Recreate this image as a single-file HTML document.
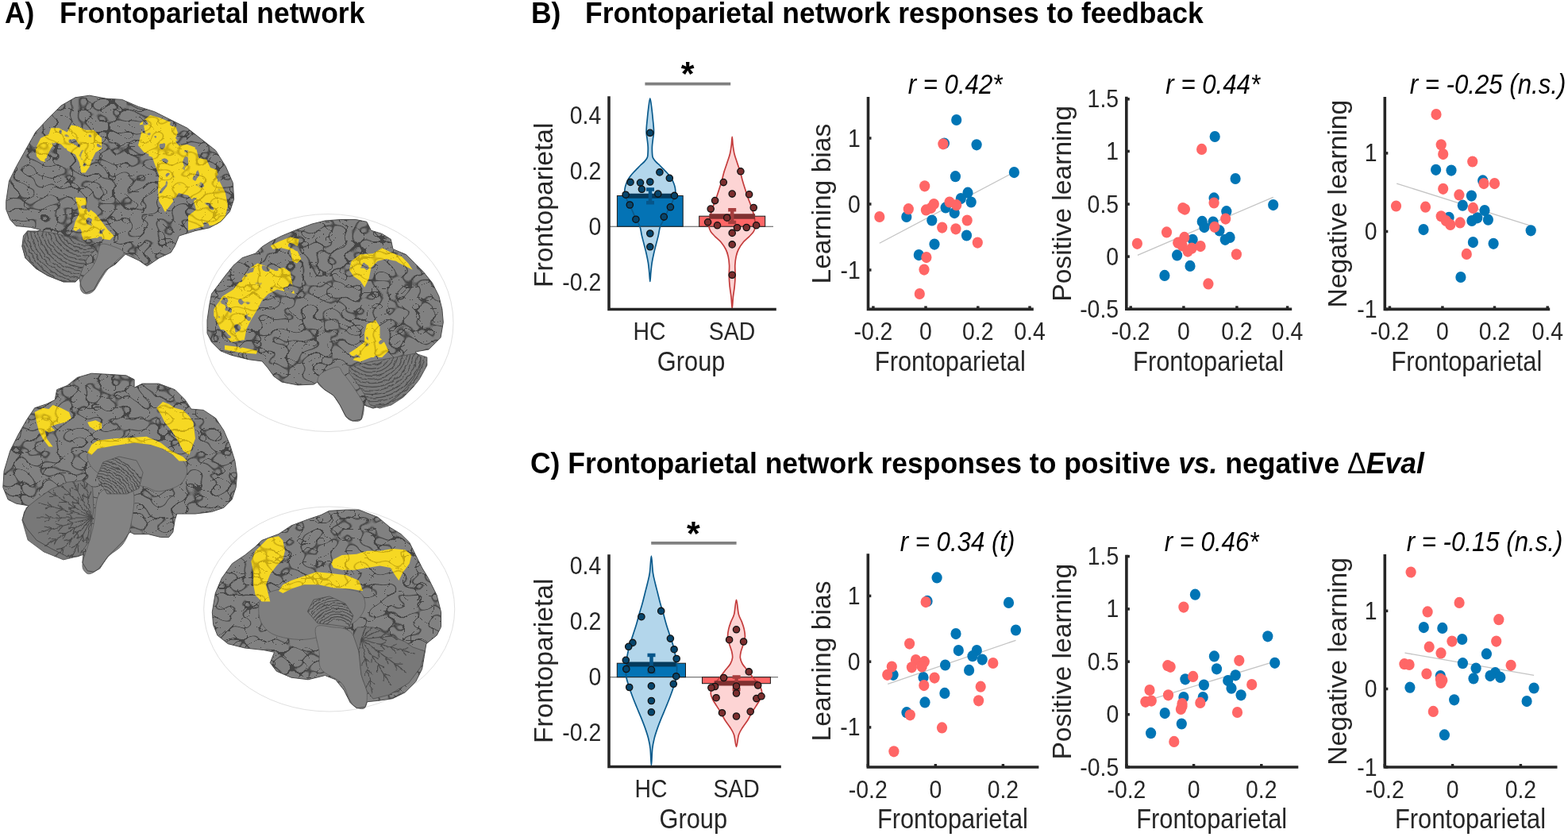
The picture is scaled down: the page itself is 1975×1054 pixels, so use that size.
<!DOCTYPE html>
<html><head><meta charset="utf-8"><title>Frontoparietal network</title>
<style>
html,body{margin:0;padding:0;background:#fff;}
body{width:1975px;height:1054px;overflow:hidden;}
svg{display:block;font-family:'Liberation Sans', Arial, Helvetica, sans-serif;}
</style></head><body>
<svg width="1975" height="1054" viewBox="0 0 1975 1054">
<rect width="1975" height="1054" fill="#fff"/>
<defs>
<filter id="gyri" x="0" y="0" width="100%" height="100%" color-interpolation-filters="sRGB">
  <feTurbulence type="turbulence" baseFrequency="0.055 0.072" numOctaves="1" seed="5" result="n"/>
  <feColorMatrix in="n" type="matrix" values="0 0 0 0 0.27  0 0 0 0 0.27  0 0 0 0 0.27  -14 0 0 0 1.02"/>
  <feGaussianBlur stdDeviation="0.3"/>
</filter>
<filter id="gyriY" x="0" y="0" width="100%" height="100%" color-interpolation-filters="sRGB">
  <feTurbulence type="turbulence" baseFrequency="0.055 0.072" numOctaves="1" seed="5" result="n"/>
  <feColorMatrix in="n" type="matrix" values="0 0 0 0 0.7  0 0 0 0 0.58  0 0 0 0 0.04  -8 0 0 0 0.7"/>
  <feGaussianBlur stdDeviation="0.3"/>
</filter>
<filter id="holesF" x="0" y="0" width="100%" height="100%" color-interpolation-filters="sRGB">
  <feTurbulence type="fractalNoise" baseFrequency="0.075" numOctaves="2" seed="21"/>
  <feColorMatrix type="matrix" values="0 0 0 0 1  0 0 0 0 1  0 0 0 0 1  -22 0 0 0 14.9"/>
</filter>
<mask id="yholes" maskUnits="userSpaceOnUse" x="0" y="90" width="620" height="830"><rect x="0" y="90" width="620" height="830" fill="#fff" filter="url(#holesF)"/></mask>
<filter id="wavy" x="-5%" y="-5%" width="110%" height="110%">
  <feTurbulence type="fractalNoise" baseFrequency="0.12" numOctaves="2" seed="11" result="t"/>
  <feDisplacementMap in="SourceGraphic" in2="t" scale="4" xChannelSelector="R" yChannelSelector="G"/>
</filter>
</defs>
<ellipse cx="413" cy="406.5" rx="158" ry="137" fill="none" stroke="#e0e0e0" stroke-width="1"/>
<ellipse cx="414.7" cy="767" rx="158" ry="129" fill="none" stroke="#e0e0e0" stroke-width="1"/>
<clipPath id="bc1"><polygon points="7.7,253.5 11.5,227.9 20.5,209.9 33.3,186.9 44.8,166.4 61.5,148.4 76.9,133.1 94.8,122.8 112.7,120.2 133.2,124.1 153.7,125.4 174.2,134.3 194.7,140.7 215.2,151.0 235.7,161.2 253.7,175.3 271.6,189.4 284.4,209.9 293.4,230.4 294.6,250.9 289.5,266.3 278.0,279.1 263.9,286.8 246.0,290.6 225.5,297.0 220.3,309.8 215.2,318.0 200.1,325.0 190.1,331.9 185.0,335.0 175.0,328.0 158.1,320.1 145.0,332.9 133.0,340.1 125.0,352.1 118.1,364.9 108.1,369.0 102.0,360.1 99.9,350.1 95.1,354.9 79.9,354.9 60.0,347.0 45.1,338.0 32.0,325.0 27.9,310.1 29.5,297.0 34.6,290.9 44.8,292.4 51.2,289.3 38.4,286.3 20.0,284.5 12.8,276.5 7.7,263.7"/></clipPath>
<clipPath id="yc1"><polygon points="44.8,186.9 51.2,174.1 61.5,168.9 64.1,161.2 74.3,161.2 84.6,166.4 89.7,157.4 97.4,158.7 107.6,163.8 117.9,163.8 128.1,174.1 128.1,186.9 120.4,192.0 115.3,202.2 112.7,209.9 107.6,217.6 102.5,217.6 99.9,204.8 94.8,194.6 84.6,189.4 76.9,181.7 69.2,179.2 64.1,186.9 58.9,197.1 58.9,204.8 51.2,202.2 46.1,197.1"/><polygon points="94.8,248.4 107.6,249.6 110.2,261.2 120.4,268.9 128.1,279.1 135.8,289.3 143.5,297.0 138.4,302.2 120.4,299.6 105.0,302.2 102.5,294.5 92.2,289.3 94.8,279.1 99.9,268.9 97.4,258.6"/><polygon points="176.0,156.1 189.1,145.1 200.1,147.9 220.1,156.1 223.9,166.9 221.1,174.1 228.0,183.0 236.0,182.0 247.0,186.1 250.1,198.9 260.1,201.0 264.9,210.9 273.1,214.0 275.9,227.1 283.9,243.0 287.0,259.1 283.1,275.0 273.1,282.9 257.0,285.0 237.0,290.1 237.0,271.9 247.0,264.0 243.9,253.0 237.0,246.0 225.0,243.0 218.0,254.0 208.0,267.1 200.1,253.0 199.1,239.9 200.1,219.9 195.0,207.1 191.9,197.9 184.0,195.1 174.0,183.0 178.1,166.9"/></clipPath>
<polygon points="7.7,253.5 11.5,227.9 20.5,209.9 33.3,186.9 44.8,166.4 61.5,148.4 76.9,133.1 94.8,122.8 112.7,120.2 133.2,124.1 153.7,125.4 174.2,134.3 194.7,140.7 215.2,151.0 235.7,161.2 253.7,175.3 271.6,189.4 284.4,209.9 293.4,230.4 294.6,250.9 289.5,266.3 278.0,279.1 263.9,286.8 246.0,290.6 225.5,297.0 220.3,309.8 215.2,318.0 200.1,325.0 190.1,331.9 185.0,335.0 175.0,328.0 158.1,320.1 145.0,332.9 133.0,340.1 125.0,352.1 118.1,364.9 108.1,369.0 102.0,360.1 99.9,350.1 95.1,354.9 79.9,354.9 60.0,347.0 45.1,338.0 32.0,325.0 27.9,310.1 29.5,297.0 34.6,290.9 44.8,292.4 51.2,289.3 38.4,286.3 20.0,284.5 12.8,276.5 7.7,263.7" fill="#818181"/>
<rect x="6" y="118" width="291" height="253" filter="url(#gyri)" clip-path="url(#bc1)"/>
<path d="M127.08,308.05 C130.41,305.58 137.12,308.44 141.94,310.10 C146.77,311.77 155.52,314.71 156.03,318.05 C156.55,321.38 148.52,326.41 145.02,330.09 C141.52,333.76 138.36,335.89 135.02,340.08 C131.69,344.26 127.85,350.84 125.03,355.20 C122.21,359.55 120.63,363.74 118.11,366.21 C115.59,368.69 112.43,369.89 109.92,370.06 C107.40,370.23 104.49,369.25 103.00,367.24 C101.50,365.23 100.61,361.22 100.95,358.01 C101.29,354.81 102.70,351.35 105.05,348.02 C107.40,344.69 112.22,341.87 115.04,338.03 C117.86,334.19 119.95,329.96 121.96,324.96 C123.96,319.97 123.75,310.53 127.08,308.05 Z" fill="#838383" stroke="#5a5a5a" stroke-width="0.8"/>
<clipPath id="cc1_0"><polygon points="34.6,290.9 27.9,310.1 32.0,325.0 45.1,338.0 60.0,347.0 79.9,354.9 95.1,354.9 99.9,350.1 104.0,338.0 109.9,325.0 119.9,315.0 110.2,307.3 94.8,300.9 69.9,294.0 50.0,290.9"/></clipPath>
<polygon points="34.6,290.9 27.9,310.1 32.0,325.0 45.1,338.0 60.0,347.0 79.9,354.9 95.1,354.9 99.9,350.1 104.0,338.0 109.9,325.0 119.9,315.0 110.2,307.3 94.8,300.9 69.9,294.0 50.0,290.9" fill="#7a7a7a" stroke="#505050" stroke-width="0.8"/>
<g clip-path="url(#cc1_0)"><g filter="url(#wavy)" fill="none" stroke="#484848" stroke-width="1.1"><circle cx="108" cy="280" r="6.0"/><circle cx="108" cy="280" r="10.6"/><circle cx="108" cy="280" r="15.2"/><circle cx="108" cy="280" r="19.8"/><circle cx="108" cy="280" r="24.4"/><circle cx="108" cy="280" r="29.0"/><circle cx="108" cy="280" r="33.6"/><circle cx="108" cy="280" r="38.2"/><circle cx="108" cy="280" r="42.8"/><circle cx="108" cy="280" r="47.4"/><circle cx="108" cy="280" r="52.0"/><circle cx="108" cy="280" r="56.6"/><circle cx="108" cy="280" r="61.2"/><circle cx="108" cy="280" r="65.8"/><circle cx="108" cy="280" r="70.4"/><circle cx="108" cy="280" r="75.0"/><circle cx="108" cy="280" r="79.6"/><circle cx="108" cy="280" r="84.2"/></g></g>
<g mask="url(#yholes)">
<polygon points="44.8,186.9 51.2,174.1 61.5,168.9 64.1,161.2 74.3,161.2 84.6,166.4 89.7,157.4 97.4,158.7 107.6,163.8 117.9,163.8 128.1,174.1 128.1,186.9 120.4,192.0 115.3,202.2 112.7,209.9 107.6,217.6 102.5,217.6 99.9,204.8 94.8,194.6 84.6,189.4 76.9,181.7 69.2,179.2 64.1,186.9 58.9,197.1 58.9,204.8 51.2,202.2 46.1,197.1" fill="#f6d823"/>
<polygon points="94.8,248.4 107.6,249.6 110.2,261.2 120.4,268.9 128.1,279.1 135.8,289.3 143.5,297.0 138.4,302.2 120.4,299.6 105.0,302.2 102.5,294.5 92.2,289.3 94.8,279.1 99.9,268.9 97.4,258.6" fill="#f6d823"/>
<polygon points="176.0,156.1 189.1,145.1 200.1,147.9 220.1,156.1 223.9,166.9 221.1,174.1 228.0,183.0 236.0,182.0 247.0,186.1 250.1,198.9 260.1,201.0 264.9,210.9 273.1,214.0 275.9,227.1 283.9,243.0 287.0,259.1 283.1,275.0 273.1,282.9 257.0,285.0 237.0,290.1 237.0,271.9 247.0,264.0 243.9,253.0 237.0,246.0 225.0,243.0 218.0,254.0 208.0,267.1 200.1,253.0 199.1,239.9 200.1,219.9 195.0,207.1 191.9,197.9 184.0,195.1 174.0,183.0 178.1,166.9" fill="#f6d823"/>
<rect x="6" y="118" width="291" height="253" filter="url(#gyriY)" clip-path="url(#yc1)"/>
</g>
<polygon points="7.7,253.5 11.5,227.9 20.5,209.9 33.3,186.9 44.8,166.4 61.5,148.4 76.9,133.1 94.8,122.8 112.7,120.2 133.2,124.1 153.7,125.4 174.2,134.3 194.7,140.7 215.2,151.0 235.7,161.2 253.7,175.3 271.6,189.4 284.4,209.9 293.4,230.4 294.6,250.9 289.5,266.3 278.0,279.1 263.9,286.8 246.0,290.6 225.5,297.0 220.3,309.8 215.2,318.0 200.1,325.0 190.1,331.9 185.0,335.0 175.0,328.0 158.1,320.1 145.0,332.9 133.0,340.1 125.0,352.1 118.1,364.9 108.1,369.0 102.0,360.1 99.9,350.1 95.1,354.9 79.9,354.9 60.0,347.0 45.1,338.0 32.0,325.0 27.9,310.1 29.5,297.0 34.6,290.9 44.8,292.4 51.2,289.3 38.4,286.3 20.0,284.5 12.8,276.5 7.7,263.7" fill="none" stroke="#4a4a4a" stroke-width="1"/>
<clipPath id="bc2"><polygon points="261.0,403.1 263.8,383.9 266.5,370.1 274.8,359.1 283.0,348.1 294.0,334.3 305.1,324.7 321.6,319.2 329.8,310.9 340.8,304.0 354.6,297.2 371.1,290.3 382.1,286.1 393.1,282.0 409.6,277.9 428.9,276.5 448.2,276.5 461.9,279.3 467.5,290.3 481.2,294.4 492.2,301.3 495.0,313.7 511.5,320.6 522.5,331.6 533.5,342.6 544.5,356.3 552.8,372.9 556.9,389.4 558.3,405.9 555.0,425.2 540.1,440.0 523.1,443.0 529.9,449.9 529.9,460.1 520.0,478.0 512.0,487.9 499.9,500.0 485.1,509.9 469.9,514.1 458.1,509.9 455.1,528.1 444.1,530.0 436.1,525.1 428.1,509.9 420.1,498.1 408.0,490.1 400.0,481.0 395.1,484.1 375.0,484.9 354.9,481.0 345.0,473.9 337.0,462.9 330.1,454.9 313.3,452.7 291.3,447.2 277.5,441.7 266.5,430.7 261.0,419.6"/></clipPath>
<clipPath id="yc2"><polygon points="269.3,389.4 280.3,372.9 294.0,364.6 305.1,350.8 316.1,337.1 324.3,331.6 332.6,334.3 343.6,339.8 357.3,337.1 365.6,342.6 368.4,359.1 371.1,370.1 360.1,367.3 349.1,364.6 338.1,370.1 329.8,378.4 324.3,389.4 316.1,403.1 310.6,414.1 307.8,427.9 291.3,430.7 280.3,419.6 274.8,408.6 269.3,397.6"/><polygon points="283.0,434.8 305.1,437.5 324.3,441.7 322.9,445.8 302.3,443.9 283.0,440.3"/><polygon points="340.8,309.5 351.8,304.0 365.6,298.5 376.6,301.3 373.9,315.1 379.4,326.1 373.9,331.6 368.4,328.8 365.6,315.1 354.6,312.3 343.6,313.7"/><polygon points="442.7,328.8 453.7,320.6 470.2,319.2 481.2,312.3 492.2,317.8 506.0,323.3 514.2,331.6 519.7,339.8 508.7,334.3 497.7,328.8 486.7,326.1 475.7,328.8 467.5,337.1 464.7,350.8 459.2,361.8 453.7,353.6 445.4,348.1 439.9,339.8"/><polygon points="461.9,408.6 473.0,403.1 478.5,411.4 478.5,425.2 484.0,430.7 489.5,441.7 481.2,449.9 467.5,449.9 453.7,455.4 442.7,452.7 439.9,444.4 448.2,438.9 459.2,430.7 459.2,419.6"/></clipPath>
<polygon points="261.0,403.1 263.8,383.9 266.5,370.1 274.8,359.1 283.0,348.1 294.0,334.3 305.1,324.7 321.6,319.2 329.8,310.9 340.8,304.0 354.6,297.2 371.1,290.3 382.1,286.1 393.1,282.0 409.6,277.9 428.9,276.5 448.2,276.5 461.9,279.3 467.5,290.3 481.2,294.4 492.2,301.3 495.0,313.7 511.5,320.6 522.5,331.6 533.5,342.6 544.5,356.3 552.8,372.9 556.9,389.4 558.3,405.9 555.0,425.2 540.1,440.0 523.1,443.0 529.9,449.9 529.9,460.1 520.0,478.0 512.0,487.9 499.9,500.0 485.1,509.9 469.9,514.1 458.1,509.9 455.1,528.1 444.1,530.0 436.1,525.1 428.1,509.9 420.1,498.1 408.0,490.1 400.0,481.0 395.1,484.1 375.0,484.9 354.9,481.0 345.0,473.9 337.0,462.9 330.1,454.9 313.3,452.7 291.3,447.2 277.5,441.7 266.5,430.7 261.0,419.6" fill="#818181"/>
<rect x="259" y="275" width="301" height="258" filter="url(#gyri)" clip-path="url(#bc2)"/>
<path d="M404.97,470.02 C409.14,466.85 420.57,462.04 425.06,462.04 C429.56,462.04 429.47,467.04 431.94,470.02 C434.42,473.00 436.90,475.75 439.93,479.93 C442.95,484.10 447.08,490.07 450.11,495.07 C453.14,500.07 457.27,504.43 458.09,509.93 C458.92,515.44 457.40,524.75 455.06,528.10 C452.73,531.45 447.22,530.53 444.05,530.02 C440.89,529.52 438.73,528.42 436.07,525.07 C433.41,521.72 430.75,514.43 428.09,509.93 C425.43,505.44 423.46,501.40 420.11,498.10 C416.76,494.79 411.35,492.96 408.00,490.11 C404.65,487.27 400.52,484.38 400.01,481.03 C399.51,477.68 400.79,473.18 404.97,470.02 Z" fill="#838383" stroke="#5a5a5a" stroke-width="0.8"/>
<clipPath id="cc2_0"><polygon points="439.9,462.0 468.0,455.2 498.0,449.9 523.1,445.0 537.9,449.9 537.9,460.1 528.0,478.0 520.0,487.9 508.2,500.0 493.0,509.9 478.2,514.1 466.1,509.9 458.1,495.1 447.9,479.9 439.9,470.0"/></clipPath>
<polygon points="439.9,462.0 468.0,455.2 498.0,449.9 523.1,445.0 537.9,449.9 537.9,460.1 528.0,478.0 520.0,487.9 508.2,500.0 493.0,509.9 478.2,514.1 466.1,509.9 458.1,495.1 447.9,479.9 439.9,470.0" fill="#7a7a7a" stroke="#505050" stroke-width="0.8"/>
<g clip-path="url(#cc2_0)"><g filter="url(#wavy)" fill="none" stroke="#484848" stroke-width="1.1"><circle cx="468" cy="438" r="8.0"/><circle cx="468" cy="438" r="12.6"/><circle cx="468" cy="438" r="17.2"/><circle cx="468" cy="438" r="21.8"/><circle cx="468" cy="438" r="26.4"/><circle cx="468" cy="438" r="31.0"/><circle cx="468" cy="438" r="35.6"/><circle cx="468" cy="438" r="40.2"/><circle cx="468" cy="438" r="44.8"/><circle cx="468" cy="438" r="49.4"/><circle cx="468" cy="438" r="54.0"/><circle cx="468" cy="438" r="58.6"/><circle cx="468" cy="438" r="63.2"/><circle cx="468" cy="438" r="67.8"/><circle cx="468" cy="438" r="72.4"/><circle cx="468" cy="438" r="77.0"/><circle cx="468" cy="438" r="81.6"/><circle cx="468" cy="438" r="86.2"/><circle cx="468" cy="438" r="90.8"/></g></g>
<g mask="url(#yholes)">
<polygon points="269.3,389.4 280.3,372.9 294.0,364.6 305.1,350.8 316.1,337.1 324.3,331.6 332.6,334.3 343.6,339.8 357.3,337.1 365.6,342.6 368.4,359.1 371.1,370.1 360.1,367.3 349.1,364.6 338.1,370.1 329.8,378.4 324.3,389.4 316.1,403.1 310.6,414.1 307.8,427.9 291.3,430.7 280.3,419.6 274.8,408.6 269.3,397.6" fill="#f6d823"/>
<polygon points="283.0,434.8 305.1,437.5 324.3,441.7 322.9,445.8 302.3,443.9 283.0,440.3" fill="#f6d823"/>
<polygon points="340.8,309.5 351.8,304.0 365.6,298.5 376.6,301.3 373.9,315.1 379.4,326.1 373.9,331.6 368.4,328.8 365.6,315.1 354.6,312.3 343.6,313.7" fill="#f6d823"/>
<polygon points="442.7,328.8 453.7,320.6 470.2,319.2 481.2,312.3 492.2,317.8 506.0,323.3 514.2,331.6 519.7,339.8 508.7,334.3 497.7,328.8 486.7,326.1 475.7,328.8 467.5,337.1 464.7,350.8 459.2,361.8 453.7,353.6 445.4,348.1 439.9,339.8" fill="#f6d823"/>
<polygon points="461.9,408.6 473.0,403.1 478.5,411.4 478.5,425.2 484.0,430.7 489.5,441.7 481.2,449.9 467.5,449.9 453.7,455.4 442.7,452.7 439.9,444.4 448.2,438.9 459.2,430.7 459.2,419.6" fill="#f6d823"/>
<rect x="259" y="275" width="301" height="258" filter="url(#gyriY)" clip-path="url(#yc2)"/>
</g>
<polygon points="261.0,403.1 263.8,383.9 266.5,370.1 274.8,359.1 283.0,348.1 294.0,334.3 305.1,324.7 321.6,319.2 329.8,310.9 340.8,304.0 354.6,297.2 371.1,290.3 382.1,286.1 393.1,282.0 409.6,277.9 428.9,276.5 448.2,276.5 461.9,279.3 467.5,290.3 481.2,294.4 492.2,301.3 495.0,313.7 511.5,320.6 522.5,331.6 533.5,342.6 544.5,356.3 552.8,372.9 556.9,389.4 558.3,405.9 555.0,425.2 540.1,440.0 523.1,443.0 529.9,449.9 529.9,460.1 520.0,478.0 512.0,487.9 499.9,500.0 485.1,509.9 469.9,514.1 458.1,509.9 455.1,528.1 444.1,530.0 436.1,525.1 428.1,509.9 420.1,498.1 408.0,490.1 400.0,481.0 395.1,484.1 375.0,484.9 354.9,481.0 345.0,473.9 337.0,462.9 330.1,454.9 313.3,452.7 291.3,447.2 277.5,441.7 266.5,430.7 261.0,419.6" fill="none" stroke="#4a4a4a" stroke-width="1"/>
<clipPath id="bc3"><polygon points="3.8,613.7 5.1,593.2 12.8,567.6 23.1,547.1 33.3,529.2 43.6,513.8 58.9,508.7 69.2,503.6 71.7,490.7 84.6,485.6 97.4,475.4 115.3,470.2 138.4,471.5 158.9,472.8 169.1,477.9 169.1,488.2 179.3,483.1 199.8,483.1 220.3,490.7 233.2,503.6 240.8,515.1 256.2,516.4 271.6,526.6 281.8,542.0 289.5,559.9 295.9,580.4 298.5,598.4 297.2,613.7 292.1,629.1 281.8,639.3 266.5,644.5 246.0,647.0 222.9,647.0 220.3,654.7 217.8,670.1 212.7,676.5 202.4,676.5 187.0,672.7 169.1,672.7 164.0,670.1 161.4,672.7 156.3,680.3 146.0,690.6 135.8,700.8 125.5,716.2 117.9,720.1 110.2,718.8 103.8,708.5 105.0,698.3 97.4,700.8 84.6,700.8 64.1,690.6 46.1,680.3 33.3,665.0 28.2,654.7 30.7,644.5 35.9,636.8 20.5,634.2 10.2,629.1"/></clipPath>
<clipPath id="yc3"><polygon points="43.6,518.9 53.8,513.8 61.5,515.1 66.6,510.0 76.9,513.8 87.1,518.9 89.7,526.6 82.0,531.7 71.7,534.3 64.1,536.9 69.2,542.0 61.5,544.6 56.4,542.0 58.9,552.2 66.6,562.5 61.5,562.5 53.8,552.2 48.7,542.0 46.1,531.7"/><polygon points="110.2,531.7 120.4,529.2 128.1,533.0 128.1,539.4 120.4,542.0 112.7,536.9"/><polygon points="110.2,570.2 115.3,559.9 123.0,554.8 143.5,552.2 166.5,551.0 184.5,549.7 202.4,557.4 215.2,567.6 230.6,575.3 235.7,580.4 225.5,580.4 217.8,572.7 205.0,565.0 189.6,559.9 169.1,557.4 143.5,561.2 123.0,565.0 115.3,572.7"/><polygon points="197.3,513.8 205.0,506.1 212.7,508.7 220.3,513.8 230.6,516.4 238.3,524.1 243.4,531.7 246.0,552.2 242.1,562.5 238.3,572.7 230.6,567.6 225.5,557.4 217.8,544.6 207.5,531.7 202.4,521.5"/></clipPath>
<polygon points="3.8,613.7 5.1,593.2 12.8,567.6 23.1,547.1 33.3,529.2 43.6,513.8 58.9,508.7 69.2,503.6 71.7,490.7 84.6,485.6 97.4,475.4 115.3,470.2 138.4,471.5 158.9,472.8 169.1,477.9 169.1,488.2 179.3,483.1 199.8,483.1 220.3,490.7 233.2,503.6 240.8,515.1 256.2,516.4 271.6,526.6 281.8,542.0 289.5,559.9 295.9,580.4 298.5,598.4 297.2,613.7 292.1,629.1 281.8,639.3 266.5,644.5 246.0,647.0 222.9,647.0 220.3,654.7 217.8,670.1 212.7,676.5 202.4,676.5 187.0,672.7 169.1,672.7 164.0,670.1 161.4,672.7 156.3,680.3 146.0,690.6 135.8,700.8 125.5,716.2 117.9,720.1 110.2,718.8 103.8,708.5 105.0,698.3 97.4,700.8 84.6,700.8 64.1,690.6 46.1,680.3 33.3,665.0 28.2,654.7 30.7,644.5 35.9,636.8 20.5,634.2 10.2,629.1" fill="#818181"/>
<rect x="2" y="468" width="299" height="254" filter="url(#gyri)" clip-path="url(#bc3)"/>
<path d="M110.17,572.73 C111.45,568.46 117.43,564.62 122.98,562.49 C128.53,560.35 135.79,560.78 143.48,559.92 C151.17,559.07 161.41,557.36 169.10,557.36 C176.79,557.36 183.62,558.64 189.60,559.92 C195.58,561.20 200.27,562.91 204.97,565.05 C209.67,567.18 213.51,570.17 217.78,572.73 C222.05,575.30 227.60,577.00 230.59,580.42 C233.58,583.84 235.72,588.96 235.72,593.23 C235.72,597.50 233.15,602.63 230.59,606.04 C228.03,609.46 225.47,611.59 220.34,613.73 C215.22,615.86 205.82,618.85 199.85,618.85 C193.87,618.85 190.45,615.44 184.47,613.73 C178.50,612.02 170.81,610.31 163.98,608.60 C157.14,606.90 149.46,605.19 143.48,603.48 C137.50,601.77 132.80,600.92 128.11,598.36 C123.41,595.79 118.29,592.38 115.30,588.11 C112.31,583.84 108.89,577.00 110.17,572.73 Z" fill="#7f7f7f" stroke="#5a5a5a" stroke-width="0.8"/>
<path d="M125.03,621.93 C119.74,629.95 120.12,650.41 118.11,660.10 C116.11,669.80 115.34,671.76 112.99,680.09 C110.64,688.41 104.83,703.23 104.02,710.06 C103.21,716.90 106.29,719.07 108.12,721.08 C109.96,723.09 112.22,723.13 115.04,722.11 C117.86,721.08 121.36,718.60 125.03,714.93 C128.70,711.26 132.08,705.07 137.07,700.07 C142.07,695.08 150.35,691.62 155.01,684.96 C159.66,678.29 162.82,670.95 165.00,660.10 C167.18,649.26 170.60,627.91 168.08,619.88 C165.56,611.85 157.06,611.59 149.88,611.93 C142.71,612.28 130.33,613.90 125.03,621.93 Z" fill="#838383" stroke="#5a5a5a" stroke-width="0.8"/>
<clipPath id="cc3_0"><polygon points="27.9,655.0 35.1,680.1 55.1,694.9 79.9,704.9 99.9,700.1 113.0,680.1 118.1,640.1 116.6,613.7 105.0,604.8 84.6,607.3 64.1,616.3 46.1,629.1 33.3,639.3"/></clipPath>
<polygon points="27.9,655.0 35.1,680.1 55.1,694.9 79.9,704.9 99.9,700.1 113.0,680.1 118.1,640.1 116.6,613.7 105.0,604.8 84.6,607.3 64.1,616.3 46.1,629.1 33.3,639.3" fill="#787878" stroke="#505050" stroke-width="0.8"/>
<g clip-path="url(#cc3_0)"><g filter="url(#wavy)" fill="none" stroke="#484848" stroke-width="1.1"><path d="M116,652 L100.6,720.3"/><path d="M110.6,675.9 l3.3,8.4"/><path d="M110.6,675.9 l-6.6,6.1"/><path d="M107.5,689.6 l3.3,8.4"/><path d="M107.5,689.6 l-6.6,6.1"/><path d="M104.4,703.2 l3.3,8.4"/><path d="M104.4,703.2 l-6.6,6.1"/><path d="M116,652 L82.9,713.7"/><path d="M104.4,673.6 l1.0,8.9"/><path d="M104.4,673.6 l-8.0,4.1"/><path d="M97.8,685.9 l1.0,8.9"/><path d="M97.8,685.9 l-8.0,4.1"/><path d="M91.2,698.3 l1.0,8.9"/><path d="M91.2,698.3 l-8.0,4.1"/><path d="M116,652 L67.7,702.7"/><path d="M99.1,669.7 l-1.4,8.9"/><path d="M99.1,669.7 l-8.8,1.9"/><path d="M89.4,679.9 l-1.4,8.9"/><path d="M89.4,679.9 l-8.8,1.9"/><path d="M79.8,690.0 l-1.4,8.9"/><path d="M79.8,690.0 l-8.8,1.9"/><path d="M116,652 L55.9,688.0"/><path d="M95.0,664.6 l-3.8,8.2"/><path d="M95.0,664.6 l-9.0,-0.5"/><path d="M83.0,671.8 l-3.8,8.2"/><path d="M83.0,671.8 l-9.0,-0.5"/><path d="M71.0,679.0 l-3.8,8.2"/><path d="M71.0,679.0 l-9.0,-0.5"/><path d="M116,652 L48.5,670.7"/><path d="M92.4,658.5 l-5.8,6.9"/><path d="M92.4,658.5 l-8.5,-2.9"/><path d="M78.9,662.3 l-5.8,6.9"/><path d="M78.9,662.3 l-8.5,-2.9"/><path d="M65.4,666.0 l-5.8,6.9"/><path d="M65.4,666.0 l-8.5,-2.9"/><path d="M116,652 L46.0,652.0"/><path d="M91.5,652.0 l-7.4,5.1"/><path d="M91.5,652.0 l-7.4,-5.1"/><path d="M77.5,652.0 l-7.4,5.1"/><path d="M77.5,652.0 l-7.4,-5.1"/><path d="M63.5,652.0 l-7.4,5.1"/><path d="M63.5,652.0 l-7.4,-5.1"/><path d="M116,652 L48.5,633.3"/><path d="M92.4,645.5 l-8.5,2.9"/><path d="M92.4,645.5 l-5.8,-6.9"/><path d="M78.9,641.7 l-8.5,2.9"/><path d="M78.9,641.7 l-5.8,-6.9"/><path d="M65.4,638.0 l-8.5,2.9"/><path d="M65.4,638.0 l-5.8,-6.9"/><path d="M116,652 L55.9,616.0"/><path d="M95.0,639.4 l-9.0,0.5"/><path d="M95.0,639.4 l-3.8,-8.2"/><path d="M83.0,632.2 l-9.0,0.5"/><path d="M83.0,632.2 l-3.8,-8.2"/><path d="M71.0,625.0 l-9.0,0.5"/><path d="M71.0,625.0 l-3.8,-8.2"/><path d="M116,652 L67.7,601.3"/><path d="M99.1,634.3 l-8.8,-1.9"/><path d="M99.1,634.3 l-1.4,-8.9"/><path d="M89.4,624.1 l-8.8,-1.9"/><path d="M89.4,624.1 l-1.4,-8.9"/><path d="M79.8,614.0 l-8.8,-1.9"/><path d="M79.8,614.0 l-1.4,-8.9"/><path d="M116,652 L82.9,590.3"/><path d="M104.4,630.4 l-8.0,-4.1"/><path d="M104.4,630.4 l1.0,-8.9"/><path d="M97.8,618.1 l-8.0,-4.1"/><path d="M97.8,618.1 l1.0,-8.9"/><path d="M91.2,605.7 l-8.0,-4.1"/><path d="M91.2,605.7 l1.0,-8.9"/><path d="M116,652 L100.6,583.7"/><path d="M110.6,628.1 l-6.6,-6.1"/><path d="M110.6,628.1 l3.3,-8.4"/><path d="M107.5,614.4 l-6.6,-6.1"/><path d="M107.5,614.4 l3.3,-8.4"/><path d="M104.4,600.8 l-6.6,-6.1"/><path d="M104.4,600.8 l3.3,-8.4"/></g></g>
<clipPath id="cc3_1"><polygon points="122.0,599.9 129.9,582.0 149.9,575.0 171.9,579.9 180.1,595.0 175.0,615.0 159.9,621.9 135.0,621.9"/></clipPath>
<polygon points="122.0,599.9 129.9,582.0 149.9,575.0 171.9,579.9 180.1,595.0 175.0,615.0 159.9,621.9 135.0,621.9" fill="#7f7f7f" stroke="#505050" stroke-width="0.8"/>
<g clip-path="url(#cc3_1)"><g filter="url(#wavy)" fill="none" stroke="#484848" stroke-width="1.1"><circle cx="120" cy="640" r="20.0"/><circle cx="120" cy="640" r="23.4"/><circle cx="120" cy="640" r="26.8"/><circle cx="120" cy="640" r="30.2"/><circle cx="120" cy="640" r="33.6"/><circle cx="120" cy="640" r="37.0"/><circle cx="120" cy="640" r="40.4"/><circle cx="120" cy="640" r="43.8"/><circle cx="120" cy="640" r="47.2"/><circle cx="120" cy="640" r="50.6"/><circle cx="120" cy="640" r="54.0"/><circle cx="120" cy="640" r="57.4"/><circle cx="120" cy="640" r="60.8"/><circle cx="120" cy="640" r="64.2"/><circle cx="120" cy="640" r="67.6"/></g></g>
<g>
<polygon points="43.6,518.9 53.8,513.8 61.5,515.1 66.6,510.0 76.9,513.8 87.1,518.9 89.7,526.6 82.0,531.7 71.7,534.3 64.1,536.9 69.2,542.0 61.5,544.6 56.4,542.0 58.9,552.2 66.6,562.5 61.5,562.5 53.8,552.2 48.7,542.0 46.1,531.7" fill="#f6d823"/>
<polygon points="110.2,531.7 120.4,529.2 128.1,533.0 128.1,539.4 120.4,542.0 112.7,536.9" fill="#f6d823"/>
<polygon points="110.2,570.2 115.3,559.9 123.0,554.8 143.5,552.2 166.5,551.0 184.5,549.7 202.4,557.4 215.2,567.6 230.6,575.3 235.7,580.4 225.5,580.4 217.8,572.7 205.0,565.0 189.6,559.9 169.1,557.4 143.5,561.2 123.0,565.0 115.3,572.7" fill="#f6d823"/>
<polygon points="197.3,513.8 205.0,506.1 212.7,508.7 220.3,513.8 230.6,516.4 238.3,524.1 243.4,531.7 246.0,552.2 242.1,562.5 238.3,572.7 230.6,567.6 225.5,557.4 217.8,544.6 207.5,531.7 202.4,521.5" fill="#f6d823"/>
<rect x="2" y="468" width="299" height="254" filter="url(#gyriY)" clip-path="url(#yc3)"/>
</g>
<polygon points="3.8,613.7 5.1,593.2 12.8,567.6 23.1,547.1 33.3,529.2 43.6,513.8 58.9,508.7 69.2,503.6 71.7,490.7 84.6,485.6 97.4,475.4 115.3,470.2 138.4,471.5 158.9,472.8 169.1,477.9 169.1,488.2 179.3,483.1 199.8,483.1 220.3,490.7 233.2,503.6 240.8,515.1 256.2,516.4 271.6,526.6 281.8,542.0 289.5,559.9 295.9,580.4 298.5,598.4 297.2,613.7 292.1,629.1 281.8,639.3 266.5,644.5 246.0,647.0 222.9,647.0 220.3,654.7 217.8,670.1 212.7,676.5 202.4,676.5 187.0,672.7 169.1,672.7 164.0,670.1 161.4,672.7 156.3,680.3 146.0,690.6 135.8,700.8 125.5,716.2 117.9,720.1 110.2,718.8 103.8,708.5 105.0,698.3 97.4,700.8 84.6,700.8 64.1,690.6 46.1,680.3 33.3,665.0 28.2,654.7 30.7,644.5 35.9,636.8 20.5,634.2 10.2,629.1" fill="none" stroke="#4a4a4a" stroke-width="1"/>
<clipPath id="bc4"><polygon points="267.3,770.8 271.3,746.9 279.2,728.3 292.5,709.7 308.4,699.1 321.7,688.4 329.7,680.5 351.0,672.5 366.9,661.9 388.2,653.9 404.1,648.6 414.7,643.3 436.0,642.0 451.9,642.0 475.8,651.3 491.8,664.5 505.0,672.5 515.7,683.1 523.6,699.1 531.6,715.0 539.6,728.3 550.2,749.6 555.5,770.8 555.5,789.4 550.2,800.0 536.9,810.7 534.3,826.6 531.6,842.5 523.6,858.5 510.4,871.8 494.4,879.7 475.8,882.4 462.5,883.7 459.9,890.4 449.3,891.7 441.3,885.0 433.3,869.1 422.7,855.8 409.4,850.5 388.2,855.8 366.9,853.2 348.3,845.2 340.3,834.6 345.6,821.3 332.4,818.6 308.4,816.0 287.2,810.7 273.9,800.0 268.6,786.7"/></clipPath>
<clipPath id="yc4"><polygon points="316.4,707.0 321.7,693.8 329.7,685.8 337.7,677.8 351.0,675.2 356.3,680.5 358.9,693.8 356.3,704.4 348.3,712.4 340.3,723.0 335.0,736.3 337.7,746.9 340.3,757.5 329.7,757.5 321.7,749.6 319.1,736.3 319.1,720.3"/><polygon points="351.0,744.2 356.3,736.3 366.9,731.0 382.8,725.6 398.8,720.3 414.7,721.7 436.0,724.3 451.9,731.0 457.2,744.2 441.3,741.6 420.0,740.3 401.4,736.3 382.8,736.3 366.9,741.6 356.3,746.9"/><polygon points="417.4,709.7 420.0,704.4 430.7,699.1 449.3,697.7 462.5,693.8 478.5,693.8 494.4,691.1 510.4,692.4 518.3,699.1 515.7,709.7 507.7,720.3 502.4,731.0 498.4,725.6 491.8,715.0 478.5,712.4 462.5,715.0 446.6,717.7 430.7,717.7 420.0,715.0"/></clipPath>
<polygon points="267.3,770.8 271.3,746.9 279.2,728.3 292.5,709.7 308.4,699.1 321.7,688.4 329.7,680.5 351.0,672.5 366.9,661.9 388.2,653.9 404.1,648.6 414.7,643.3 436.0,642.0 451.9,642.0 475.8,651.3 491.8,664.5 505.0,672.5 515.7,683.1 523.6,699.1 531.6,715.0 539.6,728.3 550.2,749.6 555.5,770.8 555.5,789.4 550.2,800.0 536.9,810.7 534.3,826.6 531.6,842.5 523.6,858.5 510.4,871.8 494.4,879.7 475.8,882.4 462.5,883.7 459.9,890.4 449.3,891.7 441.3,885.0 433.3,869.1 422.7,855.8 409.4,850.5 388.2,855.8 366.9,853.2 348.3,845.2 340.3,834.6 345.6,821.3 332.4,818.6 308.4,816.0 287.2,810.7 273.9,800.0 268.6,786.7" fill="#818181"/>
<rect x="265" y="640" width="292" height="254" filter="url(#gyri)" clip-path="url(#bc4)"/>
<path d="M327.05,757.52 C328.82,752.21 333.24,749.55 337.67,746.90 C342.10,744.24 346.97,743.35 353.61,741.58 C360.26,739.81 368.23,737.16 377.52,736.27 C386.82,735.38 399.66,735.38 409.40,736.27 C419.15,737.16 428.44,739.81 435.97,741.58 C443.50,743.35 450.58,743.35 454.57,746.90 C458.55,750.44 460.33,757.52 459.88,762.84 C459.44,768.15 455.90,774.35 451.91,778.78 C447.93,783.21 443.06,785.86 435.97,789.40 C428.89,792.95 418.26,797.38 409.40,800.03 C400.55,802.69 391.69,804.90 382.84,805.35 C373.98,805.79 363.80,804.46 356.27,802.69 C348.74,800.92 342.54,798.70 337.67,794.72 C332.80,790.73 328.82,784.98 327.05,778.78 C325.27,772.58 325.27,762.84 327.05,757.52 Z" fill="#7f7f7f" stroke="#5a5a5a" stroke-width="0.8"/>
<path d="M397.98,789.94 C394.97,794.94 400.81,811.10 401.97,819.96 C403.12,828.81 400.19,836.39 404.89,843.07 C409.58,849.76 424.28,853.92 430.13,860.07 C435.97,866.23 437.12,875.00 439.96,880.00 C442.79,885.00 443.81,888.28 447.13,890.10 C450.45,891.91 457.40,894.26 459.88,890.89 C462.36,887.53 462.81,876.72 462.01,869.90 C461.21,863.09 456.78,858.30 455.10,849.98 C453.42,841.65 453.60,828.28 451.91,819.96 C450.23,811.63 447.84,804.68 445.01,800.03 C442.17,795.38 439.07,793.74 434.91,792.06 C430.75,790.38 426.19,790.29 420.03,789.94 C413.88,789.58 400.99,784.93 397.98,789.94 Z" fill="#838383" stroke="#5a5a5a" stroke-width="0.8"/>
<clipPath id="cc4_0"><polygon points="445.0,800.0 451.9,820.0 455.1,850.0 462.0,869.9 470.0,880.0 489.9,875.0 514.9,860.1 530.0,839.9 535.1,820.0 519.9,814.9 510.1,808.0 489.9,800.0 470.0,789.9 450.1,789.9"/></clipPath>
<polygon points="445.0,800.0 451.9,820.0 455.1,850.0 462.0,869.9 470.0,880.0 489.9,875.0 514.9,860.1 530.0,839.9 535.1,820.0 519.9,814.9 510.1,808.0 489.9,800.0 470.0,789.9 450.1,789.9" fill="#787878" stroke="#505050" stroke-width="0.8"/>
<g clip-path="url(#cc4_0)"><g filter="url(#wavy)" fill="none" stroke="#484848" stroke-width="1.1"><path d="M455,805 L479.6,739.5"/><path d="M463.6,782.1 l-2.2,-8.7"/><path d="M463.6,782.1 l7.4,-5.2"/><path d="M468.5,769.0 l-2.2,-8.7"/><path d="M468.5,769.0 l7.4,-5.2"/><path d="M473.4,755.8 l-2.2,-8.7"/><path d="M473.4,755.8 l7.4,-5.2"/><path d="M455,805 L501.5,752.7"/><path d="M471.3,786.7 l1.1,-8.9"/><path d="M471.3,786.7 l8.7,-2.2"/><path d="M480.6,776.2 l1.1,-8.9"/><path d="M480.6,776.2 l8.7,-2.2"/><path d="M489.9,765.8 l1.1,-8.9"/><path d="M489.9,765.8 l8.7,-2.2"/><path d="M455,805 L517.2,773.0"/><path d="M476.8,793.8 l4.3,-7.9"/><path d="M476.8,793.8 l8.9,1.1"/><path d="M489.2,787.4 l4.3,-7.9"/><path d="M489.2,787.4 l8.9,1.1"/><path d="M501.7,781.0 l4.3,-7.9"/><path d="M501.7,781.0 l8.9,1.1"/><path d="M455,805 L524.6,797.5"/><path d="M479.4,802.4 l6.8,-5.8"/><path d="M479.4,802.4 l7.9,4.3"/><path d="M493.3,800.9 l6.8,-5.8"/><path d="M493.3,800.9 l7.9,4.3"/><path d="M507.2,799.4 l6.8,-5.8"/><path d="M507.2,799.4 l7.9,4.3"/><path d="M455,805 L522.6,823.1"/><path d="M478.7,811.3 l8.5,-3.0"/><path d="M478.7,811.3 l5.9,6.8"/><path d="M492.2,815.0 l8.5,-3.0"/><path d="M492.2,815.0 l5.9,6.8"/><path d="M505.7,818.6 l8.5,-3.0"/><path d="M505.7,818.6 l5.9,6.8"/><path d="M455,805 L511.6,846.3"/><path d="M474.8,819.4 l9.0,0.3"/><path d="M474.8,819.4 l3.0,8.5"/><path d="M486.1,827.7 l9.0,0.3"/><path d="M486.1,827.7 l3.0,8.5"/><path d="M497.4,835.9 l9.0,0.3"/><path d="M497.4,835.9 l3.0,8.5"/><path d="M455,805 L492.9,863.9"/><path d="M468.3,825.6 l8.3,3.5"/><path d="M468.3,825.6 l-0.3,9.0"/><path d="M475.8,837.4 l8.3,3.5"/><path d="M475.8,837.4 l-0.3,9.0"/><path d="M483.4,849.1 l8.3,3.5"/><path d="M483.4,849.1 l-0.3,9.0"/><path d="M455,805 L469.2,873.6"/><path d="M460.0,829.0 l6.5,6.2"/><path d="M460.0,829.0 l-3.5,8.3"/><path d="M462.8,842.7 l6.5,6.2"/><path d="M462.8,842.7 l-3.5,8.3"/><path d="M465.6,856.4 l6.5,6.2"/><path d="M465.6,856.4 l-3.5,8.3"/><path d="M455,805 L443.5,874.1"/><path d="M451.0,829.2 l3.8,8.2"/><path d="M451.0,829.2 l-6.2,6.5"/><path d="M448.7,843.0 l3.8,8.2"/><path d="M448.7,843.0 l-6.2,6.5"/><path d="M446.4,856.8 l3.8,8.2"/><path d="M446.4,856.8 l-6.2,6.5"/></g></g>
<clipPath id="cc4_1"><polygon points="387.1,770.0 395.1,755.1 415.0,750.9 434.9,759.9 445.0,775.1 440.0,789.9 420.0,787.0 400.1,784.9"/></clipPath>
<polygon points="387.1,770.0 395.1,755.1 415.0,750.9 434.9,759.9 445.0,775.1 440.0,789.9 420.0,787.0 400.1,784.9" fill="#7f7f7f" stroke="#505050" stroke-width="0.8"/>
<g clip-path="url(#cc4_1)"><g filter="url(#wavy)" fill="none" stroke="#484848" stroke-width="1.1"><circle cx="425" cy="800" r="20.0"/><circle cx="425" cy="800" r="23.4"/><circle cx="425" cy="800" r="26.8"/><circle cx="425" cy="800" r="30.2"/><circle cx="425" cy="800" r="33.6"/><circle cx="425" cy="800" r="37.0"/><circle cx="425" cy="800" r="40.4"/><circle cx="425" cy="800" r="43.8"/><circle cx="425" cy="800" r="47.2"/><circle cx="425" cy="800" r="50.6"/><circle cx="425" cy="800" r="54.0"/><circle cx="425" cy="800" r="57.4"/></g></g>
<g>
<polygon points="316.4,707.0 321.7,693.8 329.7,685.8 337.7,677.8 351.0,675.2 356.3,680.5 358.9,693.8 356.3,704.4 348.3,712.4 340.3,723.0 335.0,736.3 337.7,746.9 340.3,757.5 329.7,757.5 321.7,749.6 319.1,736.3 319.1,720.3" fill="#f6d823"/>
<polygon points="351.0,744.2 356.3,736.3 366.9,731.0 382.8,725.6 398.8,720.3 414.7,721.7 436.0,724.3 451.9,731.0 457.2,744.2 441.3,741.6 420.0,740.3 401.4,736.3 382.8,736.3 366.9,741.6 356.3,746.9" fill="#f6d823"/>
<polygon points="417.4,709.7 420.0,704.4 430.7,699.1 449.3,697.7 462.5,693.8 478.5,693.8 494.4,691.1 510.4,692.4 518.3,699.1 515.7,709.7 507.7,720.3 502.4,731.0 498.4,725.6 491.8,715.0 478.5,712.4 462.5,715.0 446.6,717.7 430.7,717.7 420.0,715.0" fill="#f6d823"/>
<rect x="265" y="640" width="292" height="254" filter="url(#gyriY)" clip-path="url(#yc4)"/>
</g>
<polygon points="267.3,770.8 271.3,746.9 279.2,728.3 292.5,709.7 308.4,699.1 321.7,688.4 329.7,680.5 351.0,672.5 366.9,661.9 388.2,653.9 404.1,648.6 414.7,643.3 436.0,642.0 451.9,642.0 475.8,651.3 491.8,664.5 505.0,672.5 515.7,683.1 523.6,699.1 531.6,715.0 539.6,728.3 550.2,749.6 555.5,770.8 555.5,789.4 550.2,800.0 536.9,810.7 534.3,826.6 531.6,842.5 523.6,858.5 510.4,871.8 494.4,879.7 475.8,882.4 462.5,883.7 459.9,890.4 449.3,891.7 441.3,885.0 433.3,869.1 422.7,855.8 409.4,850.5 388.2,855.8 366.9,853.2 348.3,845.2 340.3,834.6 345.6,821.3 332.4,818.6 308.4,816.0 287.2,810.7 273.9,800.0 268.6,786.7" fill="none" stroke="#4a4a4a" stroke-width="1"/>
<text x="0" y="0" font-size="35.5" text-anchor="start" font-weight="bold" font-style="normal" fill="#000" transform="translate(6.0 28.6) scale(1 1.05)">A)</text>
<text x="0" y="0" font-size="35.5" text-anchor="start" font-weight="bold" font-style="normal" fill="#000" transform="translate(75.0 28.6) scale(1 1.05)">Frontoparietal network</text>
<text x="0" y="0" font-size="35.5" text-anchor="start" font-weight="bold" font-style="normal" fill="#000" transform="translate(669.0 28.6) scale(1 1.05)">B)</text>
<text x="0" y="0" font-size="35.5" text-anchor="start" font-weight="bold" font-style="normal" fill="#000" transform="translate(737.0 28.6) scale(1 1.05)">Frontoparietal network responses to feedback</text>
<text x="0" y="0" transform="translate(668 596) scale(1 1.05)" font-size="35.5" font-weight="bold" fill="#000" text-anchor="start">C) Frontoparietal network responses to positive <tspan font-style="italic">vs.</tspan> negative <tspan font-weight="normal">Δ</tspan><tspan font-style="italic">Eval</tspan></text>
<line x1="767.0" y1="285.2" x2="974.0" y2="285.2" stroke="#555" stroke-width="1.1"/>
<path d="M818.80,123.80 C819.57,123.80 820.52,133.95 821.10,138.30 C821.68,142.65 821.95,146.42 822.30,149.90 C822.65,153.38 823.00,156.30 823.20,159.20 C823.40,162.10 823.63,164.58 823.50,167.30 C823.37,170.02 822.75,172.58 822.40,175.50 C822.05,178.42 821.53,181.70 821.40,184.80 C821.27,187.90 821.43,191.78 821.60,194.10 C821.77,196.42 821.70,197.15 822.40,198.70 C823.10,200.25 824.40,201.85 825.80,203.40 C827.20,204.95 829.20,206.45 830.80,208.00 C832.40,209.55 833.90,211.15 835.40,212.70 C836.90,214.25 838.40,215.75 839.80,217.30 C841.20,218.85 842.63,220.45 843.80,222.00 C844.97,223.55 845.97,225.05 846.80,226.60 C847.63,228.15 848.23,229.75 848.80,231.30 C849.37,232.85 849.87,234.35 850.20,235.90 C850.53,237.45 850.80,239.05 850.80,240.60 C850.80,242.15 850.87,242.88 850.20,245.20 C849.53,247.52 848.20,251.40 846.80,254.50 C845.40,257.60 843.47,260.30 841.80,263.80 C840.13,267.30 838.50,271.93 836.80,275.50 C835.10,279.07 832.85,281.72 831.60,285.20 C830.35,288.68 830.18,292.60 829.30,296.40 C828.42,300.20 827.28,304.12 826.30,308.00 C825.32,311.88 824.27,315.82 823.40,319.70 C822.53,323.58 821.70,327.43 821.10,331.30 C820.50,335.17 820.18,339.03 819.80,342.90 C819.42,346.77 819.13,354.50 818.80,354.50 C818.47,354.50 818.18,346.77 817.80,342.90 C817.42,339.03 817.10,335.17 816.50,331.30 C815.90,327.43 815.07,323.58 814.20,319.70 C813.33,315.82 812.28,311.88 811.30,308.00 C810.32,304.12 809.18,300.20 808.30,296.40 C807.42,292.60 807.25,288.68 806.00,285.20 C804.75,281.72 802.50,279.07 800.80,275.50 C799.10,271.93 797.47,267.30 795.80,263.80 C794.13,260.30 792.20,257.60 790.80,254.50 C789.40,251.40 788.07,247.52 787.40,245.20 C786.73,242.88 786.80,242.15 786.80,240.60 C786.80,239.05 787.07,237.45 787.40,235.90 C787.73,234.35 788.23,232.85 788.80,231.30 C789.37,229.75 789.97,228.15 790.80,226.60 C791.63,225.05 792.63,223.55 793.80,222.00 C794.97,220.45 796.40,218.85 797.80,217.30 C799.20,215.75 800.70,214.25 802.20,212.70 C803.70,211.15 805.20,209.55 806.80,208.00 C808.40,206.45 810.40,204.95 811.80,203.40 C813.20,201.85 814.50,200.25 815.20,198.70 C815.90,197.15 815.83,196.42 816.00,194.10 C816.17,191.78 816.33,187.90 816.20,184.80 C816.07,181.70 815.55,178.42 815.20,175.50 C814.85,172.58 814.23,170.02 814.10,167.30 C813.97,164.58 814.20,162.10 814.40,159.20 C814.60,156.30 814.95,153.38 815.30,149.90 C815.65,146.42 815.92,142.65 816.50,138.30 C817.08,133.95 818.03,123.80 818.80,123.80 Z" fill="#B3D6EB" stroke="none"/>
<rect x="777.4" y="246.5" width="82.8" height="38.7" fill="#0473B5" stroke="#1a1a1a" stroke-width="1"/>
<path d="M818.80,123.80 C819.57,123.80 820.52,133.95 821.10,138.30 C821.68,142.65 821.95,146.42 822.30,149.90 C822.65,153.38 823.00,156.30 823.20,159.20 C823.40,162.10 823.63,164.58 823.50,167.30 C823.37,170.02 822.75,172.58 822.40,175.50 C822.05,178.42 821.53,181.70 821.40,184.80 C821.27,187.90 821.43,191.78 821.60,194.10 C821.77,196.42 821.70,197.15 822.40,198.70 C823.10,200.25 824.40,201.85 825.80,203.40 C827.20,204.95 829.20,206.45 830.80,208.00 C832.40,209.55 833.90,211.15 835.40,212.70 C836.90,214.25 838.40,215.75 839.80,217.30 C841.20,218.85 842.63,220.45 843.80,222.00 C844.97,223.55 845.97,225.05 846.80,226.60 C847.63,228.15 848.23,229.75 848.80,231.30 C849.37,232.85 849.87,234.35 850.20,235.90 C850.53,237.45 850.80,239.05 850.80,240.60 C850.80,242.15 850.87,242.88 850.20,245.20 C849.53,247.52 848.20,251.40 846.80,254.50 C845.40,257.60 843.47,260.30 841.80,263.80 C840.13,267.30 838.50,271.93 836.80,275.50 C835.10,279.07 832.85,281.72 831.60,285.20 C830.35,288.68 830.18,292.60 829.30,296.40 C828.42,300.20 827.28,304.12 826.30,308.00 C825.32,311.88 824.27,315.82 823.40,319.70 C822.53,323.58 821.70,327.43 821.10,331.30 C820.50,335.17 820.18,339.03 819.80,342.90 C819.42,346.77 819.13,354.50 818.80,354.50 C818.47,354.50 818.18,346.77 817.80,342.90 C817.42,339.03 817.10,335.17 816.50,331.30 C815.90,327.43 815.07,323.58 814.20,319.70 C813.33,315.82 812.28,311.88 811.30,308.00 C810.32,304.12 809.18,300.20 808.30,296.40 C807.42,292.60 807.25,288.68 806.00,285.20 C804.75,281.72 802.50,279.07 800.80,275.50 C799.10,271.93 797.47,267.30 795.80,263.80 C794.13,260.30 792.20,257.60 790.80,254.50 C789.40,251.40 788.07,247.52 787.40,245.20 C786.73,242.88 786.80,242.15 786.80,240.60 C786.80,239.05 787.07,237.45 787.40,235.90 C787.73,234.35 788.23,232.85 788.80,231.30 C789.37,229.75 789.97,228.15 790.80,226.60 C791.63,225.05 792.63,223.55 793.80,222.00 C794.97,220.45 796.40,218.85 797.80,217.30 C799.20,215.75 800.70,214.25 802.20,212.70 C803.70,211.15 805.20,209.55 806.80,208.00 C808.40,206.45 810.40,204.95 811.80,203.40 C813.20,201.85 814.50,200.25 815.20,198.70 C815.90,197.15 815.83,196.42 816.00,194.10 C816.17,191.78 816.33,187.90 816.20,184.80 C816.07,181.70 815.55,178.42 815.20,175.50 C814.85,172.58 814.23,170.02 814.10,167.30 C813.97,164.58 814.20,162.10 814.40,159.20 C814.60,156.30 814.95,153.38 815.30,149.90 C815.65,146.42 815.92,142.65 816.50,138.30 C817.08,133.95 818.03,123.80 818.80,123.80 Z" fill="none" stroke="#0a5a8c" stroke-width="1.7" stroke-linejoin="round"/>
<line x1="787.9" y1="246.7" x2="850.0" y2="246.7" stroke="#053A5C" stroke-width="6"/>
<path d="M814.0,238.5 H824.0 M819.0,238.5 V255.2 M814.0,255.2 H824.0" stroke="#06568A" stroke-width="4.5" fill="none"/>
<circle cx="818.8" cy="167.3" r="4.15" fill="#07456C" stroke="#111" stroke-width="1.3"/>
<circle cx="830.9" cy="216.9" r="4.15" fill="#07456C" stroke="#111" stroke-width="1.3"/>
<circle cx="843.3" cy="224.3" r="4.15" fill="#07456C" stroke="#111" stroke-width="1.3"/>
<circle cx="794.0" cy="229.4" r="4.15" fill="#07456C" stroke="#111" stroke-width="1.3"/>
<circle cx="806.5" cy="230.1" r="4.15" fill="#07456C" stroke="#111" stroke-width="1.3"/>
<circle cx="818.8" cy="229.0" r="4.15" fill="#07456C" stroke="#111" stroke-width="1.3"/>
<circle cx="808.4" cy="238.3" r="4.15" fill="#07456C" stroke="#111" stroke-width="1.3"/>
<circle cx="788.1" cy="245.2" r="4.15" fill="#07456C" stroke="#111" stroke-width="1.3"/>
<circle cx="828.8" cy="244.1" r="4.15" fill="#07456C" stroke="#111" stroke-width="1.3"/>
<circle cx="849.5" cy="246.4" r="4.15" fill="#07456C" stroke="#111" stroke-width="1.3"/>
<circle cx="793.3" cy="258.0" r="4.15" fill="#07456C" stroke="#111" stroke-width="1.3"/>
<circle cx="844.4" cy="260.8" r="4.15" fill="#07456C" stroke="#111" stroke-width="1.3"/>
<circle cx="800.9" cy="276.2" r="4.15" fill="#07456C" stroke="#111" stroke-width="1.3"/>
<circle cx="836.3" cy="273.1" r="4.15" fill="#07456C" stroke="#111" stroke-width="1.3"/>
<circle cx="818.8" cy="294.0" r="4.15" fill="#07456C" stroke="#111" stroke-width="1.3"/>
<circle cx="818.8" cy="310.8" r="4.15" fill="#07456C" stroke="#111" stroke-width="1.3"/>
<path d="M922.20,172.30 C922.50,172.30 922.65,178.77 923.10,182.30 C923.55,185.83 924.02,189.78 924.90,193.50 C925.78,197.22 927.18,200.88 928.40,204.60 C929.62,208.32 931.08,212.08 932.20,215.80 C933.32,219.52 934.05,223.18 935.10,226.90 C936.15,230.62 937.32,234.38 938.50,238.10 C939.68,241.82 941.02,245.85 942.20,249.20 C943.38,252.55 944.55,255.22 945.60,258.20 C946.65,261.18 947.68,264.13 948.50,267.10 C949.32,270.07 949.97,273.22 950.50,276.00 C951.03,278.78 951.92,281.20 951.70,283.80 C951.48,286.40 950.62,289.18 949.20,291.60 C947.78,294.02 945.37,296.07 943.20,298.30 C941.03,300.53 938.37,302.38 936.20,305.00 C934.03,307.62 931.70,311.02 930.20,314.00 C928.70,316.98 927.93,319.57 927.20,322.90 C926.47,326.23 925.98,329.92 925.80,334.00 C925.62,338.08 926.20,342.93 926.10,347.40 C926.00,351.87 925.65,356.33 925.20,360.80 C924.75,365.27 923.90,369.55 923.40,374.20 C922.90,378.85 922.60,388.70 922.20,388.70 C921.80,388.70 921.50,378.85 921.00,374.20 C920.50,369.55 919.65,365.27 919.20,360.80 C918.75,356.33 918.40,351.87 918.30,347.40 C918.20,342.93 918.78,338.08 918.60,334.00 C918.42,329.92 917.93,326.23 917.20,322.90 C916.47,319.57 915.70,316.98 914.20,314.00 C912.70,311.02 910.37,307.62 908.20,305.00 C906.03,302.38 903.37,300.53 901.20,298.30 C899.03,296.07 896.62,294.02 895.20,291.60 C893.78,289.18 892.92,286.40 892.70,283.80 C892.48,281.20 893.37,278.78 893.90,276.00 C894.43,273.22 895.08,270.07 895.90,267.10 C896.72,264.13 897.75,261.18 898.80,258.20 C899.85,255.22 901.02,252.55 902.20,249.20 C903.38,245.85 904.72,241.82 905.90,238.10 C907.08,234.38 908.25,230.62 909.30,226.90 C910.35,223.18 911.08,219.52 912.20,215.80 C913.32,212.08 914.78,208.32 916.00,204.60 C917.22,200.88 918.62,197.22 919.50,193.50 C920.38,189.78 920.85,185.83 921.30,182.30 C921.75,178.77 921.90,172.30 922.20,172.30 Z" fill="#FDD4D4" stroke="none"/>
<rect x="880.7" y="272.2" width="83.0" height="13.0" fill="#FF6666" stroke="#1a1a1a" stroke-width="1"/>
<path d="M922.20,172.30 C922.50,172.30 922.65,178.77 923.10,182.30 C923.55,185.83 924.02,189.78 924.90,193.50 C925.78,197.22 927.18,200.88 928.40,204.60 C929.62,208.32 931.08,212.08 932.20,215.80 C933.32,219.52 934.05,223.18 935.10,226.90 C936.15,230.62 937.32,234.38 938.50,238.10 C939.68,241.82 941.02,245.85 942.20,249.20 C943.38,252.55 944.55,255.22 945.60,258.20 C946.65,261.18 947.68,264.13 948.50,267.10 C949.32,270.07 949.97,273.22 950.50,276.00 C951.03,278.78 951.92,281.20 951.70,283.80 C951.48,286.40 950.62,289.18 949.20,291.60 C947.78,294.02 945.37,296.07 943.20,298.30 C941.03,300.53 938.37,302.38 936.20,305.00 C934.03,307.62 931.70,311.02 930.20,314.00 C928.70,316.98 927.93,319.57 927.20,322.90 C926.47,326.23 925.98,329.92 925.80,334.00 C925.62,338.08 926.20,342.93 926.10,347.40 C926.00,351.87 925.65,356.33 925.20,360.80 C924.75,365.27 923.90,369.55 923.40,374.20 C922.90,378.85 922.60,388.70 922.20,388.70 C921.80,388.70 921.50,378.85 921.00,374.20 C920.50,369.55 919.65,365.27 919.20,360.80 C918.75,356.33 918.40,351.87 918.30,347.40 C918.20,342.93 918.78,338.08 918.60,334.00 C918.42,329.92 917.93,326.23 917.20,322.90 C916.47,319.57 915.70,316.98 914.20,314.00 C912.70,311.02 910.37,307.62 908.20,305.00 C906.03,302.38 903.37,300.53 901.20,298.30 C899.03,296.07 896.62,294.02 895.20,291.60 C893.78,289.18 892.92,286.40 892.70,283.80 C892.48,281.20 893.37,278.78 893.90,276.00 C894.43,273.22 895.08,270.07 895.90,267.10 C896.72,264.13 897.75,261.18 898.80,258.20 C899.85,255.22 901.02,252.55 902.20,249.20 C903.38,245.85 904.72,241.82 905.90,238.10 C907.08,234.38 908.25,230.62 909.30,226.90 C910.35,223.18 911.08,219.52 912.20,215.80 C913.32,212.08 914.78,208.32 916.00,204.60 C917.22,200.88 918.62,197.22 919.50,193.50 C920.38,189.78 920.85,185.83 921.30,182.30 C921.75,178.77 921.90,172.30 922.20,172.30 Z" fill="none" stroke="#C43C3C" stroke-width="1.7" stroke-linejoin="round"/>
<line x1="893.3" y1="272.5" x2="951.1" y2="272.5" stroke="#7F3030" stroke-width="6.5"/>
<path d="M917.2,264.2 H927.2 M922.2,264.2 V280.0 M917.2,280.0 H927.2" stroke="#A83E3E" stroke-width="4.5" fill="none"/>
<circle cx="932.9" cy="215.8" r="4.15" fill="#7B2E2E" stroke="#111" stroke-width="1.3"/>
<circle cx="911.3" cy="229.6" r="4.15" fill="#7B2E2E" stroke="#111" stroke-width="1.3"/>
<circle cx="922.2" cy="244.1" r="4.15" fill="#7B2E2E" stroke="#111" stroke-width="1.3"/>
<circle cx="943.6" cy="244.8" r="4.15" fill="#7B2E2E" stroke="#111" stroke-width="1.3"/>
<circle cx="900.6" cy="252.6" r="4.15" fill="#7B2E2E" stroke="#111" stroke-width="1.3"/>
<circle cx="895.2" cy="263.1" r="4.15" fill="#7B2E2E" stroke="#111" stroke-width="1.3"/>
<circle cx="949.2" cy="261.5" r="4.15" fill="#7B2E2E" stroke="#111" stroke-width="1.3"/>
<circle cx="915.7" cy="274.2" r="4.15" fill="#7B2E2E" stroke="#111" stroke-width="1.3"/>
<circle cx="891.6" cy="279.8" r="4.15" fill="#7B2E2E" stroke="#111" stroke-width="1.3"/>
<circle cx="903.5" cy="283.8" r="4.15" fill="#7B2E2E" stroke="#111" stroke-width="1.3"/>
<circle cx="928.5" cy="286.7" r="4.15" fill="#7B2E2E" stroke="#111" stroke-width="1.3"/>
<circle cx="940.3" cy="286.5" r="4.15" fill="#7B2E2E" stroke="#111" stroke-width="1.3"/>
<circle cx="952.6" cy="283.8" r="4.15" fill="#7B2E2E" stroke="#111" stroke-width="1.3"/>
<circle cx="922.2" cy="293.4" r="4.15" fill="#7B2E2E" stroke="#111" stroke-width="1.3"/>
<circle cx="922.2" cy="307.9" r="4.15" fill="#7B2E2E" stroke="#111" stroke-width="1.3"/>
<circle cx="922.2" cy="346.3" r="4.15" fill="#7B2E2E" stroke="#111" stroke-width="1.3"/>
<path d="M767.0,123.0 V389.5 H976.0" fill="none" stroke="#262626" stroke-width="3.6" stroke-linecap="square"/>
<text x="0" y="0" font-size="28.4" text-anchor="end" font-weight="normal" font-style="normal" fill="#262626" transform="translate(757.3 155.7) scale(1 1.1)">0.4</text>
<text x="0" y="0" font-size="28.4" text-anchor="end" font-weight="normal" font-style="normal" fill="#262626" transform="translate(757.3 225.7) scale(1 1.1)">0.2</text>
<text x="0" y="0" font-size="28.4" text-anchor="end" font-weight="normal" font-style="normal" fill="#262626" transform="translate(757.3 295.7) scale(1 1.1)">0</text>
<text x="0" y="0" font-size="28.4" text-anchor="end" font-weight="normal" font-style="normal" fill="#262626" transform="translate(757.3 365.7) scale(1 1.1)">-0.2</text>
<text x="0" y="0" font-size="28.4" text-anchor="middle" font-weight="normal" font-style="normal" fill="#262626" transform="translate(818.0 428.0) scale(1 1.1)">HC</text>
<text x="0" y="0" font-size="28.4" text-anchor="middle" font-weight="normal" font-style="normal" fill="#262626" transform="translate(922.0 428.0) scale(1 1.1)">SAD</text>
<text x="0" y="0" font-size="30.8" text-anchor="middle" font-weight="normal" font-style="normal" fill="#262626" transform="translate(870.6 467.0) scale(1 1.16)">Group</text>
<text x="0" y="0" font-size="32.5" text-anchor="middle" font-weight="normal" font-style="normal" fill="#262626" transform="translate(696.0 258.2) rotate(-90) scale(1.035 1)">Frontoparietal</text>
<line x1="812.4" y1="105.6" x2="920.2" y2="105.6" stroke="#808080" stroke-width="3.8"/>
<text x="0" y="0" font-size="43" text-anchor="middle" font-weight="bold" font-style="normal" fill="#000" transform="translate(866.0 107.0) scale(1 1.0)">*</text>
<line x1="767.0" y1="852.7" x2="980.0" y2="852.7" stroke="#555" stroke-width="1.1"/>
<path d="M820.40,700.20 C821.07,700.20 821.60,715.43 822.40,721.10 C823.20,726.77 824.18,729.85 825.20,734.20 C826.22,738.55 827.40,742.85 828.50,747.20 C829.60,751.55 830.60,755.95 831.80,760.30 C833.00,764.65 834.45,768.95 835.70,773.30 C836.95,777.65 838.00,782.05 839.30,786.40 C840.60,790.75 842.08,795.05 843.50,799.40 C844.92,803.75 846.60,808.15 847.80,812.50 C849.00,816.85 850.05,822.02 850.70,825.50 C851.35,828.98 851.38,830.78 851.70,833.40 C852.02,836.02 852.57,837.93 852.60,841.20 C852.63,844.47 852.58,849.08 851.90,853.00 C851.22,856.92 849.83,860.57 848.50,864.70 C847.17,868.83 845.53,873.45 843.90,877.80 C842.27,882.15 840.48,886.45 838.70,890.80 C836.92,895.15 834.95,899.55 833.20,903.90 C831.45,908.25 829.72,912.55 828.20,916.90 C826.68,921.25 825.18,925.65 824.10,930.00 C823.02,934.35 822.32,937.35 821.70,943.00 C821.08,948.65 820.83,963.90 820.40,963.90 C819.97,963.90 819.72,948.65 819.10,943.00 C818.48,937.35 817.78,934.35 816.70,930.00 C815.62,925.65 814.12,921.25 812.60,916.90 C811.08,912.55 809.35,908.25 807.60,903.90 C805.85,899.55 803.88,895.15 802.10,890.80 C800.32,886.45 798.53,882.15 796.90,877.80 C795.27,873.45 793.63,868.83 792.30,864.70 C790.97,860.57 789.58,856.92 788.90,853.00 C788.22,849.08 788.17,844.47 788.20,841.20 C788.23,837.93 788.78,836.02 789.10,833.40 C789.42,830.78 789.45,828.98 790.10,825.50 C790.75,822.02 791.80,816.85 793.00,812.50 C794.20,808.15 795.88,803.75 797.30,799.40 C798.72,795.05 800.20,790.75 801.50,786.40 C802.80,782.05 803.85,777.65 805.10,773.30 C806.35,768.95 807.80,764.65 809.00,760.30 C810.20,755.95 811.20,751.55 812.30,747.20 C813.40,742.85 814.58,738.55 815.60,734.20 C816.62,729.85 817.60,726.77 818.40,721.10 C819.20,715.43 819.73,700.20 820.40,700.20 Z" fill="#B3D6EB" stroke="none"/>
<rect x="777.3" y="835.2" width="86.2" height="17.5" fill="#0473B5" stroke="#1a1a1a" stroke-width="1"/>
<path d="M820.40,700.20 C821.07,700.20 821.60,715.43 822.40,721.10 C823.20,726.77 824.18,729.85 825.20,734.20 C826.22,738.55 827.40,742.85 828.50,747.20 C829.60,751.55 830.60,755.95 831.80,760.30 C833.00,764.65 834.45,768.95 835.70,773.30 C836.95,777.65 838.00,782.05 839.30,786.40 C840.60,790.75 842.08,795.05 843.50,799.40 C844.92,803.75 846.60,808.15 847.80,812.50 C849.00,816.85 850.05,822.02 850.70,825.50 C851.35,828.98 851.38,830.78 851.70,833.40 C852.02,836.02 852.57,837.93 852.60,841.20 C852.63,844.47 852.58,849.08 851.90,853.00 C851.22,856.92 849.83,860.57 848.50,864.70 C847.17,868.83 845.53,873.45 843.90,877.80 C842.27,882.15 840.48,886.45 838.70,890.80 C836.92,895.15 834.95,899.55 833.20,903.90 C831.45,908.25 829.72,912.55 828.20,916.90 C826.68,921.25 825.18,925.65 824.10,930.00 C823.02,934.35 822.32,937.35 821.70,943.00 C821.08,948.65 820.83,963.90 820.40,963.90 C819.97,963.90 819.72,948.65 819.10,943.00 C818.48,937.35 817.78,934.35 816.70,930.00 C815.62,925.65 814.12,921.25 812.60,916.90 C811.08,912.55 809.35,908.25 807.60,903.90 C805.85,899.55 803.88,895.15 802.10,890.80 C800.32,886.45 798.53,882.15 796.90,877.80 C795.27,873.45 793.63,868.83 792.30,864.70 C790.97,860.57 789.58,856.92 788.90,853.00 C788.22,849.08 788.17,844.47 788.20,841.20 C788.23,837.93 788.78,836.02 789.10,833.40 C789.42,830.78 789.45,828.98 790.10,825.50 C790.75,822.02 791.80,816.85 793.00,812.50 C794.20,808.15 795.88,803.75 797.30,799.40 C798.72,795.05 800.20,790.75 801.50,786.40 C802.80,782.05 803.85,777.65 805.10,773.30 C806.35,768.95 807.80,764.65 809.00,760.30 C810.20,755.95 811.20,751.55 812.30,747.20 C813.40,742.85 814.58,738.55 815.60,734.20 C816.62,729.85 817.60,726.77 818.40,721.10 C819.20,715.43 819.73,700.20 820.40,700.20 Z" fill="none" stroke="#0a5a8c" stroke-width="1.7" stroke-linejoin="round"/>
<line x1="788.8" y1="836.5" x2="851.5" y2="836.5" stroke="#053A5C" stroke-width="6"/>
<path d="M815.5,825.0 H825.5 M820.5,825.0 V846.0 M815.5,846.0 H825.5" stroke="#06568A" stroke-width="4.5" fill="none"/>
<circle cx="832.7" cy="769.4" r="4.15" fill="#07456C" stroke="#111" stroke-width="1.3"/>
<circle cx="807.9" cy="776.7" r="4.15" fill="#07456C" stroke="#111" stroke-width="1.3"/>
<circle cx="796.9" cy="809.4" r="4.15" fill="#07456C" stroke="#111" stroke-width="1.3"/>
<circle cx="791.7" cy="814.3" r="4.15" fill="#07456C" stroke="#111" stroke-width="1.3"/>
<circle cx="844.4" cy="804.1" r="4.15" fill="#07456C" stroke="#111" stroke-width="1.3"/>
<circle cx="849.1" cy="817.7" r="4.15" fill="#07456C" stroke="#111" stroke-width="1.3"/>
<circle cx="852.2" cy="829.5" r="4.15" fill="#07456C" stroke="#111" stroke-width="1.3"/>
<circle cx="788.3" cy="831.3" r="4.15" fill="#07456C" stroke="#111" stroke-width="1.3"/>
<circle cx="788.8" cy="842.5" r="4.15" fill="#07456C" stroke="#111" stroke-width="1.3"/>
<circle cx="820.4" cy="843.3" r="4.15" fill="#07456C" stroke="#111" stroke-width="1.3"/>
<circle cx="851.7" cy="851.7" r="4.15" fill="#07456C" stroke="#111" stroke-width="1.3"/>
<circle cx="848.3" cy="861.3" r="4.15" fill="#07456C" stroke="#111" stroke-width="1.3"/>
<circle cx="792.7" cy="865.5" r="4.15" fill="#07456C" stroke="#111" stroke-width="1.3"/>
<circle cx="820.4" cy="863.9" r="4.15" fill="#07456C" stroke="#111" stroke-width="1.3"/>
<circle cx="820.4" cy="882.5" r="4.15" fill="#07456C" stroke="#111" stroke-width="1.3"/>
<circle cx="820.4" cy="896.8" r="4.15" fill="#07456C" stroke="#111" stroke-width="1.3"/>
<path d="M927.50,755.40 C928.43,755.40 929.17,768.82 930.30,773.40 C931.43,777.98 933.13,779.73 934.30,782.90 C935.47,786.07 936.62,789.23 937.30,792.40 C937.98,795.57 938.58,798.73 938.40,801.90 C938.22,805.07 937.07,808.23 936.20,811.40 C935.33,814.57 933.83,818.07 933.20,820.90 C932.57,823.73 932.08,825.88 932.40,828.40 C932.72,830.92 933.65,833.47 935.10,836.00 C936.55,838.53 939.13,841.07 941.10,843.60 C943.07,846.13 944.90,848.67 946.90,851.20 C948.90,853.73 951.20,856.27 953.10,858.80 C955.00,861.33 957.20,863.87 958.30,866.40 C959.40,868.93 959.93,871.48 959.70,874.00 C959.47,876.52 958.15,878.98 956.90,881.50 C955.65,884.02 953.78,886.57 952.20,889.10 C950.62,891.63 949.07,893.85 947.40,896.70 C945.73,899.55 944.17,903.03 942.20,906.20 C940.23,909.37 937.55,912.53 935.60,915.70 C933.65,918.87 931.85,921.10 930.50,925.20 C929.15,929.30 928.50,940.30 927.50,940.30 C926.50,940.30 925.85,929.30 924.50,925.20 C923.15,921.10 921.35,918.87 919.40,915.70 C917.45,912.53 914.77,909.37 912.80,906.20 C910.83,903.03 909.27,899.55 907.60,896.70 C905.93,893.85 904.38,891.63 902.80,889.10 C901.22,886.57 899.35,884.02 898.10,881.50 C896.85,878.98 895.53,876.52 895.30,874.00 C895.07,871.48 895.60,868.93 896.70,866.40 C897.80,863.87 900.00,861.33 901.90,858.80 C903.80,856.27 906.10,853.73 908.10,851.20 C910.10,848.67 911.93,846.13 913.90,843.60 C915.87,841.07 918.45,838.53 919.90,836.00 C921.35,833.47 922.28,830.92 922.60,828.40 C922.92,825.88 922.43,823.73 921.80,820.90 C921.17,818.07 919.67,814.57 918.80,811.40 C917.93,808.23 916.78,805.07 916.60,801.90 C916.42,798.73 917.02,795.57 917.70,792.40 C918.38,789.23 919.53,786.07 920.70,782.90 C921.87,779.73 923.57,777.98 924.70,773.40 C925.83,768.82 926.57,755.40 927.50,755.40 Z" fill="#FDD4D4" stroke="none"/>
<rect x="884.5" y="852.7" width="85.9" height="8.0" fill="#FF6666" stroke="#1a1a1a" stroke-width="1"/>
<path d="M927.50,755.40 C928.43,755.40 929.17,768.82 930.30,773.40 C931.43,777.98 933.13,779.73 934.30,782.90 C935.47,786.07 936.62,789.23 937.30,792.40 C937.98,795.57 938.58,798.73 938.40,801.90 C938.22,805.07 937.07,808.23 936.20,811.40 C935.33,814.57 933.83,818.07 933.20,820.90 C932.57,823.73 932.08,825.88 932.40,828.40 C932.72,830.92 933.65,833.47 935.10,836.00 C936.55,838.53 939.13,841.07 941.10,843.60 C943.07,846.13 944.90,848.67 946.90,851.20 C948.90,853.73 951.20,856.27 953.10,858.80 C955.00,861.33 957.20,863.87 958.30,866.40 C959.40,868.93 959.93,871.48 959.70,874.00 C959.47,876.52 958.15,878.98 956.90,881.50 C955.65,884.02 953.78,886.57 952.20,889.10 C950.62,891.63 949.07,893.85 947.40,896.70 C945.73,899.55 944.17,903.03 942.20,906.20 C940.23,909.37 937.55,912.53 935.60,915.70 C933.65,918.87 931.85,921.10 930.50,925.20 C929.15,929.30 928.50,940.30 927.50,940.30 C926.50,940.30 925.85,929.30 924.50,925.20 C923.15,921.10 921.35,918.87 919.40,915.70 C917.45,912.53 914.77,909.37 912.80,906.20 C910.83,903.03 909.27,899.55 907.60,896.70 C905.93,893.85 904.38,891.63 902.80,889.10 C901.22,886.57 899.35,884.02 898.10,881.50 C896.85,878.98 895.53,876.52 895.30,874.00 C895.07,871.48 895.60,868.93 896.70,866.40 C897.80,863.87 900.00,861.33 901.90,858.80 C903.80,856.27 906.10,853.73 908.10,851.20 C910.10,848.67 911.93,846.13 913.90,843.60 C915.87,841.07 918.45,838.53 919.90,836.00 C921.35,833.47 922.28,830.92 922.60,828.40 C922.92,825.88 922.43,823.73 921.80,820.90 C921.17,818.07 919.67,814.57 918.80,811.40 C917.93,808.23 916.78,805.07 916.60,801.90 C916.42,798.73 917.02,795.57 917.70,792.40 C918.38,789.23 919.53,786.07 920.70,782.90 C921.87,779.73 923.57,777.98 924.70,773.40 C925.83,768.82 926.57,755.40 927.50,755.40 Z" fill="none" stroke="#C43C3C" stroke-width="1.7" stroke-linejoin="round"/>
<line x1="899.7" y1="860.4" x2="954.7" y2="860.4" stroke="#7F3030" stroke-width="6.2"/>
<path d="M922.6,852.5 H932.6 M927.6,852.5 V868.0 M922.6,868.0 H932.6" stroke="#A83E3E" stroke-width="4.5" fill="none"/>
<circle cx="927.5" cy="792.8" r="4.15" fill="#7B2E2E" stroke="#111" stroke-width="1.3"/>
<circle cx="918.6" cy="805.7" r="4.15" fill="#7B2E2E" stroke="#111" stroke-width="1.3"/>
<circle cx="936.6" cy="808.0" r="4.15" fill="#7B2E2E" stroke="#111" stroke-width="1.3"/>
<circle cx="943.3" cy="845.9" r="4.15" fill="#7B2E2E" stroke="#111" stroke-width="1.3"/>
<circle cx="911.6" cy="853.5" r="4.15" fill="#7B2E2E" stroke="#111" stroke-width="1.3"/>
<circle cx="900.6" cy="864.5" r="4.15" fill="#7B2E2E" stroke="#111" stroke-width="1.3"/>
<circle cx="895.9" cy="866.0" r="4.15" fill="#7B2E2E" stroke="#111" stroke-width="1.3"/>
<circle cx="927.5" cy="864.1" r="4.15" fill="#7B2E2E" stroke="#111" stroke-width="1.3"/>
<circle cx="954.7" cy="863.0" r="4.15" fill="#7B2E2E" stroke="#111" stroke-width="1.3"/>
<circle cx="927.5" cy="873.0" r="4.15" fill="#7B2E2E" stroke="#111" stroke-width="1.3"/>
<circle cx="902.1" cy="878.7" r="4.15" fill="#7B2E2E" stroke="#111" stroke-width="1.3"/>
<circle cx="952.8" cy="879.6" r="4.15" fill="#7B2E2E" stroke="#111" stroke-width="1.3"/>
<circle cx="959.0" cy="876.8" r="4.15" fill="#7B2E2E" stroke="#111" stroke-width="1.3"/>
<circle cx="909.5" cy="897.7" r="4.15" fill="#7B2E2E" stroke="#111" stroke-width="1.3"/>
<circle cx="945.2" cy="896.1" r="4.15" fill="#7B2E2E" stroke="#111" stroke-width="1.3"/>
<circle cx="927.5" cy="902.0" r="4.15" fill="#7B2E2E" stroke="#111" stroke-width="1.3"/>
<path d="M767.0,700.0 V965.5 H982.0" fill="none" stroke="#262626" stroke-width="3.6" stroke-linecap="square"/>
<text x="0" y="0" font-size="28.4" text-anchor="end" font-weight="normal" font-style="normal" fill="#262626" transform="translate(757.3 723.2) scale(1 1.1)">0.4</text>
<text x="0" y="0" font-size="28.4" text-anchor="end" font-weight="normal" font-style="normal" fill="#262626" transform="translate(757.3 793.2) scale(1 1.1)">0.2</text>
<text x="0" y="0" font-size="28.4" text-anchor="end" font-weight="normal" font-style="normal" fill="#262626" transform="translate(757.3 863.2) scale(1 1.1)">0</text>
<text x="0" y="0" font-size="28.4" text-anchor="end" font-weight="normal" font-style="normal" fill="#262626" transform="translate(757.3 933.2) scale(1 1.1)">-0.2</text>
<text x="0" y="0" font-size="28.4" text-anchor="middle" font-weight="normal" font-style="normal" fill="#262626" transform="translate(820.0 1003.5) scale(1 1.1)">HC</text>
<text x="0" y="0" font-size="28.4" text-anchor="middle" font-weight="normal" font-style="normal" fill="#262626" transform="translate(927.6 1003.5) scale(1 1.1)">SAD</text>
<text x="0" y="0" font-size="30.8" text-anchor="middle" font-weight="normal" font-style="normal" fill="#262626" transform="translate(873.3 1042.5) scale(1 1.16)">Group</text>
<text x="0" y="0" font-size="32.5" text-anchor="middle" font-weight="normal" font-style="normal" fill="#262626" transform="translate(696.0 832.2) rotate(-90) scale(1.035 1)">Frontoparietal</text>
<line x1="820.2" y1="683.9" x2="927.6" y2="683.9" stroke="#808080" stroke-width="3.8"/>
<text x="0" y="0" font-size="43" text-anchor="middle" font-weight="bold" font-style="normal" fill="#000" transform="translate(873.3 685.5) scale(1 1.0)">*</text>
<line x1="1107.8" y1="306.3" x2="1271.3" y2="220.0" stroke="#c4c4c4" stroke-width="1.3"/>
<ellipse cx="1204.7" cy="151.0" rx="6.6" ry="7.1" fill="#0075B5"/>
<ellipse cx="1189.4" cy="180.6" rx="6.6" ry="7.1" fill="#0075B5"/>
<ellipse cx="1230.1" cy="182.3" rx="6.6" ry="7.1" fill="#0075B5"/>
<ellipse cx="1203.4" cy="222.2" rx="6.6" ry="7.1" fill="#0075B5"/>
<ellipse cx="1277.4" cy="217.1" rx="6.6" ry="7.1" fill="#0075B5"/>
<ellipse cx="1219.0" cy="242.7" rx="6.6" ry="7.1" fill="#0075B5"/>
<ellipse cx="1210.3" cy="250.1" rx="6.6" ry="7.1" fill="#0075B5"/>
<ellipse cx="1223.2" cy="254.5" rx="6.6" ry="7.1" fill="#0075B5"/>
<ellipse cx="1191.1" cy="261.4" rx="6.6" ry="7.1" fill="#0075B5"/>
<ellipse cx="1202.2" cy="268.1" rx="6.6" ry="7.1" fill="#0075B5"/>
<ellipse cx="1141.8" cy="273.0" rx="6.6" ry="7.1" fill="#0075B5"/>
<ellipse cx="1173.8" cy="277.5" rx="6.6" ry="7.1" fill="#0075B5"/>
<ellipse cx="1217.5" cy="296.5" rx="6.6" ry="7.1" fill="#0075B5"/>
<ellipse cx="1177.0" cy="307.6" rx="6.6" ry="7.1" fill="#0075B5"/>
<ellipse cx="1157.3" cy="321.1" rx="6.6" ry="7.1" fill="#0075B5"/>
<ellipse cx="1187.9" cy="181.3" rx="6.6" ry="7.1" fill="#FF6666"/>
<ellipse cx="1164.7" cy="234.3" rx="6.6" ry="7.1" fill="#FF6666"/>
<ellipse cx="1107.8" cy="273.0" rx="6.6" ry="7.1" fill="#FF6666"/>
<ellipse cx="1144.3" cy="263.2" rx="6.6" ry="7.1" fill="#FF6666"/>
<ellipse cx="1166.4" cy="264.4" rx="6.6" ry="7.1" fill="#FF6666"/>
<ellipse cx="1172.6" cy="261.9" rx="6.6" ry="7.1" fill="#FF6666"/>
<ellipse cx="1176.3" cy="257.0" rx="6.6" ry="7.1" fill="#FF6666"/>
<ellipse cx="1196.0" cy="254.5" rx="6.6" ry="7.1" fill="#FF6666"/>
<ellipse cx="1204.7" cy="258.2" rx="6.6" ry="7.1" fill="#FF6666"/>
<ellipse cx="1218.2" cy="277.5" rx="6.6" ry="7.1" fill="#FF6666"/>
<ellipse cx="1186.7" cy="286.6" rx="6.6" ry="7.1" fill="#FF6666"/>
<ellipse cx="1203.9" cy="288.3" rx="6.6" ry="7.1" fill="#FF6666"/>
<ellipse cx="1231.3" cy="305.6" rx="6.6" ry="7.1" fill="#FF6666"/>
<ellipse cx="1166.9" cy="324.1" rx="6.6" ry="7.1" fill="#FF6666"/>
<ellipse cx="1164.0" cy="339.6" rx="6.6" ry="7.1" fill="#FF6666"/>
<ellipse cx="1158.3" cy="370.0" rx="6.6" ry="7.1" fill="#FF6666"/>
<path d="M1093.5,123.7 V389.4 H1300.0" fill="none" stroke="#262626" stroke-width="3.6" stroke-linecap="square"/>
<line x1="1093.5" y1="174.0" x2="1097.5" y2="174.0" stroke="#262626" stroke-width="3.5"/>
<text x="0" y="0" font-size="28.4" text-anchor="end" font-weight="normal" font-style="normal" fill="#262626" transform="translate(1083.8 184.5) scale(1 1.1)">1</text>
<line x1="1093.5" y1="257.0" x2="1097.5" y2="257.0" stroke="#262626" stroke-width="3.5"/>
<text x="0" y="0" font-size="28.4" text-anchor="end" font-weight="normal" font-style="normal" fill="#262626" transform="translate(1083.8 267.5) scale(1 1.1)">0</text>
<line x1="1093.5" y1="340.0" x2="1097.5" y2="340.0" stroke="#262626" stroke-width="3.5"/>
<text x="0" y="0" font-size="28.4" text-anchor="end" font-weight="normal" font-style="normal" fill="#262626" transform="translate(1083.8 350.5) scale(1 1.1)">-1</text>
<line x1="1099.9" y1="389.4" x2="1099.9" y2="385.4" stroke="#262626" stroke-width="3.5"/>
<text x="0" y="0" font-size="28.4" text-anchor="middle" font-weight="normal" font-style="normal" fill="#262626" transform="translate(1099.9 427.9) scale(1 1.1)">-0.2</text>
<line x1="1166.0" y1="389.4" x2="1166.0" y2="385.4" stroke="#262626" stroke-width="3.5"/>
<text x="0" y="0" font-size="28.4" text-anchor="middle" font-weight="normal" font-style="normal" fill="#262626" transform="translate(1166.0 427.9) scale(1 1.1)">0</text>
<line x1="1231.8" y1="389.4" x2="1231.8" y2="385.4" stroke="#262626" stroke-width="3.5"/>
<text x="0" y="0" font-size="28.4" text-anchor="middle" font-weight="normal" font-style="normal" fill="#262626" transform="translate(1231.8 427.9) scale(1 1.1)">0.2</text>
<line x1="1297.0" y1="389.4" x2="1297.0" y2="385.4" stroke="#262626" stroke-width="3.5"/>
<text x="0" y="0" font-size="28.4" text-anchor="middle" font-weight="normal" font-style="normal" fill="#262626" transform="translate(1297.0 427.9) scale(1 1.1)">0.4</text>
<text x="0" y="0" font-size="30.8" text-anchor="middle" font-weight="normal" font-style="normal" fill="#262626" transform="translate(1196.8 467.0) scale(1 1.16)">Frontoparietal</text>
<text x="0" y="0" font-size="32.5" text-anchor="middle" font-weight="normal" font-style="normal" fill="#262626" transform="translate(1046.0 256.6) rotate(-90) scale(1.035 1)">Learning bias</text>
<text x="0" y="0" font-size="31.2" text-anchor="middle" font-weight="normal" font-style="italic" fill="#000" transform="translate(1203.0 118.0) scale(1 1.105)">r = 0.42*</text>
<line x1="1432.9" y1="321.4" x2="1603.7" y2="248.3" stroke="#c4c4c4" stroke-width="1.3"/>
<ellipse cx="1530.2" cy="172.0" rx="6.6" ry="7.1" fill="#0075B5"/>
<ellipse cx="1556.1" cy="225.0" rx="6.6" ry="7.1" fill="#0075B5"/>
<ellipse cx="1529.1" cy="249.4" rx="6.6" ry="7.1" fill="#0075B5"/>
<ellipse cx="1603.7" cy="258.1" rx="6.6" ry="7.1" fill="#0075B5"/>
<ellipse cx="1544.8" cy="266.2" rx="6.6" ry="7.1" fill="#0075B5"/>
<ellipse cx="1514.2" cy="278.9" rx="6.6" ry="7.1" fill="#0075B5"/>
<ellipse cx="1528.0" cy="279.5" rx="6.6" ry="7.1" fill="#0075B5"/>
<ellipse cx="1516.9" cy="286.1" rx="6.6" ry="7.1" fill="#0075B5"/>
<ellipse cx="1536.0" cy="290.4" rx="6.6" ry="7.1" fill="#0075B5"/>
<ellipse cx="1549.1" cy="298.9" rx="6.6" ry="7.1" fill="#0075B5"/>
<ellipse cx="1543.2" cy="301.8" rx="6.6" ry="7.1" fill="#0075B5"/>
<ellipse cx="1502.2" cy="301.8" rx="6.6" ry="7.1" fill="#0075B5"/>
<ellipse cx="1482.6" cy="321.4" rx="6.6" ry="7.1" fill="#0075B5"/>
<ellipse cx="1499.0" cy="334.9" rx="6.6" ry="7.1" fill="#0075B5"/>
<ellipse cx="1466.9" cy="346.9" rx="6.6" ry="7.1" fill="#0075B5"/>
<ellipse cx="1513.6" cy="187.9" rx="6.6" ry="7.1" fill="#FF6666"/>
<ellipse cx="1529.1" cy="255.5" rx="6.6" ry="7.1" fill="#FF6666"/>
<ellipse cx="1489.8" cy="262.1" rx="6.6" ry="7.1" fill="#FF6666"/>
<ellipse cx="1492.4" cy="263.6" rx="6.6" ry="7.1" fill="#FF6666"/>
<ellipse cx="1543.7" cy="275.6" rx="6.6" ry="7.1" fill="#FF6666"/>
<ellipse cx="1529.9" cy="285.8" rx="6.6" ry="7.1" fill="#FF6666"/>
<ellipse cx="1469.5" cy="292.4" rx="6.6" ry="7.1" fill="#FF6666"/>
<ellipse cx="1432.4" cy="306.8" rx="6.6" ry="7.1" fill="#FF6666"/>
<ellipse cx="1491.8" cy="298.9" rx="6.6" ry="7.1" fill="#FF6666"/>
<ellipse cx="1483.7" cy="305.7" rx="6.6" ry="7.1" fill="#FF6666"/>
<ellipse cx="1489.2" cy="309.4" rx="6.6" ry="7.1" fill="#FF6666"/>
<ellipse cx="1501.1" cy="312.7" rx="6.6" ry="7.1" fill="#FF6666"/>
<ellipse cx="1512.1" cy="310.1" rx="6.6" ry="7.1" fill="#FF6666"/>
<ellipse cx="1496.1" cy="316.6" rx="6.6" ry="7.1" fill="#FF6666"/>
<ellipse cx="1557.4" cy="320.3" rx="6.6" ry="7.1" fill="#FF6666"/>
<ellipse cx="1521.9" cy="357.4" rx="6.6" ry="7.1" fill="#FF6666"/>
<path d="M1418.8,123.6 V389.3 H1625.4" fill="none" stroke="#262626" stroke-width="3.6" stroke-linecap="square"/>
<line x1="1418.8" y1="124.8" x2="1422.8" y2="124.8" stroke="#262626" stroke-width="3.5"/>
<text x="0" y="0" font-size="28.4" text-anchor="end" font-weight="normal" font-style="normal" fill="#262626" transform="translate(1409.1 135.3) scale(1 1.1)">1.5</text>
<line x1="1418.8" y1="190.5" x2="1422.8" y2="190.5" stroke="#262626" stroke-width="3.5"/>
<text x="0" y="0" font-size="28.4" text-anchor="end" font-weight="normal" font-style="normal" fill="#262626" transform="translate(1409.1 201.0) scale(1 1.1)">1</text>
<line x1="1418.8" y1="257.1" x2="1422.8" y2="257.1" stroke="#262626" stroke-width="3.5"/>
<text x="0" y="0" font-size="28.4" text-anchor="end" font-weight="normal" font-style="normal" fill="#262626" transform="translate(1409.1 267.6) scale(1 1.1)">0.5</text>
<line x1="1418.8" y1="323.1" x2="1422.8" y2="323.1" stroke="#262626" stroke-width="3.5"/>
<text x="0" y="0" font-size="28.4" text-anchor="end" font-weight="normal" font-style="normal" fill="#262626" transform="translate(1409.1 333.6) scale(1 1.1)">0</text>
<line x1="1418.8" y1="389.3" x2="1422.8" y2="389.3" stroke="#262626" stroke-width="3.5"/>
<text x="0" y="0" font-size="28.4" text-anchor="end" font-weight="normal" font-style="normal" fill="#262626" transform="translate(1409.1 399.8) scale(1 1.1)">-0.5</text>
<line x1="1424.2" y1="389.3" x2="1424.2" y2="385.3" stroke="#262626" stroke-width="3.5"/>
<text x="0" y="0" font-size="28.4" text-anchor="middle" font-weight="normal" font-style="normal" fill="#262626" transform="translate(1424.2 427.8) scale(1 1.1)">-0.2</text>
<line x1="1490.9" y1="389.3" x2="1490.9" y2="385.3" stroke="#262626" stroke-width="3.5"/>
<text x="0" y="0" font-size="28.4" text-anchor="middle" font-weight="normal" font-style="normal" fill="#262626" transform="translate(1490.9 427.8) scale(1 1.1)">0</text>
<line x1="1557.9" y1="389.3" x2="1557.9" y2="385.3" stroke="#262626" stroke-width="3.5"/>
<text x="0" y="0" font-size="28.4" text-anchor="middle" font-weight="normal" font-style="normal" fill="#262626" transform="translate(1557.9 427.8) scale(1 1.1)">0.2</text>
<line x1="1621.6" y1="389.3" x2="1621.6" y2="385.3" stroke="#262626" stroke-width="3.5"/>
<text x="0" y="0" font-size="28.4" text-anchor="middle" font-weight="normal" font-style="normal" fill="#262626" transform="translate(1621.6 427.8) scale(1 1.1)">0.4</text>
<text x="0" y="0" font-size="30.8" text-anchor="middle" font-weight="normal" font-style="normal" fill="#262626" transform="translate(1522.1 467.0) scale(1 1.16)">Frontoparietal</text>
<text x="0" y="0" font-size="32.5" text-anchor="middle" font-weight="normal" font-style="normal" fill="#262626" transform="translate(1348.5 256.4) rotate(-90) scale(1.035 1)">Positive learning</text>
<text x="0" y="0" font-size="31.2" text-anchor="middle" font-weight="normal" font-style="italic" fill="#000" transform="translate(1527.7 118.0) scale(1 1.105)">r = 0.44*</text>
<line x1="1759.2" y1="231.1" x2="1927.4" y2="284.1" stroke="#c4c4c4" stroke-width="1.3"/>
<ellipse cx="1808.6" cy="213.8" rx="6.6" ry="7.1" fill="#0075B5"/>
<ellipse cx="1828.0" cy="214.6" rx="6.6" ry="7.1" fill="#0075B5"/>
<ellipse cx="1867.7" cy="227.4" rx="6.6" ry="7.1" fill="#0075B5"/>
<ellipse cx="1853.4" cy="246.6" rx="6.6" ry="7.1" fill="#0075B5"/>
<ellipse cx="1842.3" cy="258.7" rx="6.6" ry="7.1" fill="#0075B5"/>
<ellipse cx="1870.0" cy="265.1" rx="6.6" ry="7.1" fill="#0075B5"/>
<ellipse cx="1825.1" cy="273.8" rx="6.6" ry="7.1" fill="#0075B5"/>
<ellipse cx="1860.8" cy="274.3" rx="6.6" ry="7.1" fill="#0075B5"/>
<ellipse cx="1853.9" cy="278.0" rx="6.6" ry="7.1" fill="#0075B5"/>
<ellipse cx="1874.4" cy="276.7" rx="6.6" ry="7.1" fill="#0075B5"/>
<ellipse cx="1793.0" cy="289.1" rx="6.6" ry="7.1" fill="#0075B5"/>
<ellipse cx="1928.2" cy="290.3" rx="6.6" ry="7.1" fill="#0075B5"/>
<ellipse cx="1855.4" cy="305.1" rx="6.6" ry="7.1" fill="#0075B5"/>
<ellipse cx="1881.1" cy="306.8" rx="6.6" ry="7.1" fill="#0075B5"/>
<ellipse cx="1839.9" cy="349.0" rx="6.6" ry="7.1" fill="#0075B5"/>
<ellipse cx="1809.0" cy="144.1" rx="6.6" ry="7.1" fill="#FF6666"/>
<ellipse cx="1815.2" cy="182.3" rx="6.6" ry="7.1" fill="#FF6666"/>
<ellipse cx="1817.7" cy="194.1" rx="6.6" ry="7.1" fill="#FF6666"/>
<ellipse cx="1854.7" cy="203.5" rx="6.6" ry="7.1" fill="#FF6666"/>
<ellipse cx="1869.0" cy="231.1" rx="6.6" ry="7.1" fill="#FF6666"/>
<ellipse cx="1882.5" cy="231.1" rx="6.6" ry="7.1" fill="#FF6666"/>
<ellipse cx="1817.7" cy="237.8" rx="6.6" ry="7.1" fill="#FF6666"/>
<ellipse cx="1837.9" cy="245.4" rx="6.6" ry="7.1" fill="#FF6666"/>
<ellipse cx="1758.5" cy="259.5" rx="6.6" ry="7.1" fill="#FF6666"/>
<ellipse cx="1795.5" cy="260.7" rx="6.6" ry="7.1" fill="#FF6666"/>
<ellipse cx="1855.4" cy="261.9" rx="6.6" ry="7.1" fill="#FF6666"/>
<ellipse cx="1815.2" cy="272.3" rx="6.6" ry="7.1" fill="#FF6666"/>
<ellipse cx="1821.4" cy="278.0" rx="6.6" ry="7.1" fill="#FF6666"/>
<ellipse cx="1826.8" cy="282.9" rx="6.6" ry="7.1" fill="#FF6666"/>
<ellipse cx="1839.1" cy="280.4" rx="6.6" ry="7.1" fill="#FF6666"/>
<ellipse cx="1847.3" cy="319.9" rx="6.6" ry="7.1" fill="#FF6666"/>
<path d="M1744.3,123.7 V389.4 H1950.4" fill="none" stroke="#262626" stroke-width="3.6" stroke-linecap="square"/>
<line x1="1744.3" y1="192.9" x2="1748.3" y2="192.9" stroke="#262626" stroke-width="3.5"/>
<text x="0" y="0" font-size="28.4" text-anchor="end" font-weight="normal" font-style="normal" fill="#262626" transform="translate(1734.6 203.4) scale(1 1.1)">1</text>
<line x1="1744.3" y1="291.5" x2="1748.3" y2="291.5" stroke="#262626" stroke-width="3.5"/>
<text x="0" y="0" font-size="28.4" text-anchor="end" font-weight="normal" font-style="normal" fill="#262626" transform="translate(1734.6 302.0) scale(1 1.1)">0</text>
<line x1="1744.3" y1="389.4" x2="1748.3" y2="389.4" stroke="#262626" stroke-width="3.5"/>
<text x="0" y="0" font-size="28.4" text-anchor="end" font-weight="normal" font-style="normal" fill="#262626" transform="translate(1734.6 399.9) scale(1 1.1)">-1</text>
<line x1="1750.4" y1="389.4" x2="1750.4" y2="385.4" stroke="#262626" stroke-width="3.5"/>
<text x="0" y="0" font-size="28.4" text-anchor="middle" font-weight="normal" font-style="normal" fill="#262626" transform="translate(1750.4 427.9) scale(1 1.1)">-0.2</text>
<line x1="1816.9" y1="389.4" x2="1816.9" y2="385.4" stroke="#262626" stroke-width="3.5"/>
<text x="0" y="0" font-size="28.4" text-anchor="middle" font-weight="normal" font-style="normal" fill="#262626" transform="translate(1816.9 427.9) scale(1 1.1)">0</text>
<line x1="1882.5" y1="389.4" x2="1882.5" y2="385.4" stroke="#262626" stroke-width="3.5"/>
<text x="0" y="0" font-size="28.4" text-anchor="middle" font-weight="normal" font-style="normal" fill="#262626" transform="translate(1882.5 427.9) scale(1 1.1)">0.2</text>
<line x1="1949.2" y1="389.4" x2="1949.2" y2="385.4" stroke="#262626" stroke-width="3.5"/>
<text x="0" y="0" font-size="28.4" text-anchor="middle" font-weight="normal" font-style="normal" fill="#262626" transform="translate(1949.2 427.9) scale(1 1.1)">0.4</text>
<text x="0" y="0" font-size="30.8" text-anchor="middle" font-weight="normal" font-style="normal" fill="#262626" transform="translate(1847.3 467.0) scale(1 1.16)">Frontoparietal</text>
<text x="0" y="0" font-size="32.5" text-anchor="middle" font-weight="normal" font-style="normal" fill="#262626" transform="translate(1696.0 256.6) rotate(-90) scale(1.035 1)">Negative learning</text>
<text x="0" y="0" font-size="31.2" text-anchor="middle" font-weight="normal" font-style="italic" fill="#000" transform="translate(1874.0 118.0) scale(1 1.105)">r = -0.25 (n.s.)</text>
<line x1="1118.2" y1="861.3" x2="1279.5" y2="806.3" stroke="#c4c4c4" stroke-width="1.3"/>
<ellipse cx="1180.1" cy="727.4" rx="6.6" ry="7.1" fill="#0075B5"/>
<ellipse cx="1168.1" cy="756.9" rx="6.6" ry="7.1" fill="#0075B5"/>
<ellipse cx="1270.5" cy="758.9" rx="6.6" ry="7.1" fill="#0075B5"/>
<ellipse cx="1279.5" cy="793.5" rx="6.6" ry="7.1" fill="#0075B5"/>
<ellipse cx="1204.0" cy="798.1" rx="6.6" ry="7.1" fill="#0075B5"/>
<ellipse cx="1207.3" cy="819.1" rx="6.6" ry="7.1" fill="#0075B5"/>
<ellipse cx="1230.3" cy="819.1" rx="6.6" ry="7.1" fill="#0075B5"/>
<ellipse cx="1225.0" cy="826.2" rx="6.6" ry="7.1" fill="#0075B5"/>
<ellipse cx="1237.2" cy="830.6" rx="6.6" ry="7.1" fill="#0075B5"/>
<ellipse cx="1190.6" cy="837.5" rx="6.6" ry="7.1" fill="#0075B5"/>
<ellipse cx="1220.6" cy="843.9" rx="6.6" ry="7.1" fill="#0075B5"/>
<ellipse cx="1125.1" cy="849.8" rx="6.6" ry="7.1" fill="#0075B5"/>
<ellipse cx="1163.0" cy="853.1" rx="6.6" ry="7.1" fill="#0075B5"/>
<ellipse cx="1189.9" cy="872.9" rx="6.6" ry="7.1" fill="#0075B5"/>
<ellipse cx="1165.0" cy="884.4" rx="6.6" ry="7.1" fill="#0075B5"/>
<ellipse cx="1142.0" cy="897.2" rx="6.6" ry="7.1" fill="#0075B5"/>
<ellipse cx="1166.1" cy="758.1" rx="6.6" ry="7.1" fill="#FF6666"/>
<ellipse cx="1145.6" cy="810.6" rx="6.6" ry="7.1" fill="#FF6666"/>
<ellipse cx="1123.3" cy="839.6" rx="6.6" ry="7.1" fill="#FF6666"/>
<ellipse cx="1117.7" cy="849.8" rx="6.6" ry="7.1" fill="#FF6666"/>
<ellipse cx="1153.5" cy="831.1" rx="6.6" ry="7.1" fill="#FF6666"/>
<ellipse cx="1164.3" cy="833.2" rx="6.6" ry="7.1" fill="#FF6666"/>
<ellipse cx="1148.4" cy="840.3" rx="6.6" ry="7.1" fill="#FF6666"/>
<ellipse cx="1161.2" cy="839.6" rx="6.6" ry="7.1" fill="#FF6666"/>
<ellipse cx="1177.1" cy="853.6" rx="6.6" ry="7.1" fill="#FF6666"/>
<ellipse cx="1163.8" cy="863.1" rx="6.6" ry="7.1" fill="#FF6666"/>
<ellipse cx="1250.8" cy="835.0" rx="6.6" ry="7.1" fill="#FF6666"/>
<ellipse cx="1235.2" cy="864.7" rx="6.6" ry="7.1" fill="#FF6666"/>
<ellipse cx="1232.6" cy="882.3" rx="6.6" ry="7.1" fill="#FF6666"/>
<ellipse cx="1146.3" cy="900.3" rx="6.6" ry="7.1" fill="#FF6666"/>
<ellipse cx="1186.5" cy="916.4" rx="6.6" ry="7.1" fill="#FF6666"/>
<ellipse cx="1125.9" cy="946.3" rx="6.6" ry="7.1" fill="#FF6666"/>
<path d="M1093.3,699.0 V966.0 H1306.6" fill="none" stroke="#262626" stroke-width="3.6" stroke-linecap="square"/>
<line x1="1093.3" y1="750.4" x2="1097.3" y2="750.4" stroke="#262626" stroke-width="3.5"/>
<text x="0" y="0" font-size="28.4" text-anchor="end" font-weight="normal" font-style="normal" fill="#262626" transform="translate(1083.6 760.9) scale(1 1.1)">1</text>
<line x1="1093.3" y1="833.2" x2="1097.3" y2="833.2" stroke="#262626" stroke-width="3.5"/>
<text x="0" y="0" font-size="28.4" text-anchor="end" font-weight="normal" font-style="normal" fill="#262626" transform="translate(1083.6 843.7) scale(1 1.1)">0</text>
<line x1="1093.3" y1="915.9" x2="1097.3" y2="915.9" stroke="#262626" stroke-width="3.5"/>
<text x="0" y="0" font-size="28.4" text-anchor="end" font-weight="normal" font-style="normal" fill="#262626" transform="translate(1083.6 926.4) scale(1 1.1)">-1</text>
<line x1="1093.3" y1="966.0" x2="1093.3" y2="962.0" stroke="#262626" stroke-width="3.5"/>
<text x="0" y="0" font-size="28.4" text-anchor="middle" font-weight="normal" font-style="normal" fill="#262626" transform="translate(1093.3 1004.5) scale(1 1.1)">-0.2</text>
<line x1="1178.3" y1="966.0" x2="1178.3" y2="962.0" stroke="#262626" stroke-width="3.5"/>
<text x="0" y="0" font-size="28.4" text-anchor="middle" font-weight="normal" font-style="normal" fill="#262626" transform="translate(1178.3 1004.5) scale(1 1.1)">0</text>
<line x1="1263.4" y1="966.0" x2="1263.4" y2="962.0" stroke="#262626" stroke-width="3.5"/>
<text x="0" y="0" font-size="28.4" text-anchor="middle" font-weight="normal" font-style="normal" fill="#262626" transform="translate(1263.4 1004.5) scale(1 1.1)">0.2</text>
<text x="0" y="0" font-size="30.8" text-anchor="middle" font-weight="normal" font-style="normal" fill="#262626" transform="translate(1199.9 1043.0) scale(1 1.16)">Frontoparietal</text>
<text x="0" y="0" font-size="32.5" text-anchor="middle" font-weight="normal" font-style="normal" fill="#262626" transform="translate(1046.0 832.5) rotate(-90) scale(1.035 1)">Learning bias</text>
<text x="0" y="0" font-size="31.2" text-anchor="middle" font-weight="normal" font-style="italic" fill="#000" transform="translate(1206.0 694.0) scale(1 1.105)">r = 0.34 (t)</text>
<line x1="1452.6" y1="879.9" x2="1599.5" y2="834.8" stroke="#c4c4c4" stroke-width="1.3"/>
<ellipse cx="1505.4" cy="748.7" rx="6.6" ry="7.1" fill="#0075B5"/>
<ellipse cx="1596.8" cy="801.3" rx="6.6" ry="7.1" fill="#0075B5"/>
<ellipse cx="1605.7" cy="834.8" rx="6.6" ry="7.1" fill="#0075B5"/>
<ellipse cx="1529.4" cy="826.4" rx="6.6" ry="7.1" fill="#0075B5"/>
<ellipse cx="1532.5" cy="842.3" rx="6.6" ry="7.1" fill="#0075B5"/>
<ellipse cx="1492.9" cy="855.3" rx="6.6" ry="7.1" fill="#0075B5"/>
<ellipse cx="1556.2" cy="850.3" rx="6.6" ry="7.1" fill="#0075B5"/>
<ellipse cx="1546.7" cy="857.1" rx="6.6" ry="7.1" fill="#0075B5"/>
<ellipse cx="1516.4" cy="862.6" rx="6.6" ry="7.1" fill="#0075B5"/>
<ellipse cx="1551.0" cy="866.7" rx="6.6" ry="7.1" fill="#0075B5"/>
<ellipse cx="1563.1" cy="875.3" rx="6.6" ry="7.1" fill="#0075B5"/>
<ellipse cx="1490.9" cy="878.1" rx="6.6" ry="7.1" fill="#0075B5"/>
<ellipse cx="1515.2" cy="878.1" rx="6.6" ry="7.1" fill="#0075B5"/>
<ellipse cx="1467.2" cy="898.1" rx="6.6" ry="7.1" fill="#0075B5"/>
<ellipse cx="1488.3" cy="911.5" rx="6.6" ry="7.1" fill="#0075B5"/>
<ellipse cx="1449.6" cy="923.2" rx="6.6" ry="7.1" fill="#0075B5"/>
<ellipse cx="1490.9" cy="764.6" rx="6.6" ry="7.1" fill="#FF6666"/>
<ellipse cx="1560.8" cy="831.8" rx="6.6" ry="7.1" fill="#FF6666"/>
<ellipse cx="1470.8" cy="838.2" rx="6.6" ry="7.1" fill="#FF6666"/>
<ellipse cx="1474.2" cy="839.8" rx="6.6" ry="7.1" fill="#FF6666"/>
<ellipse cx="1502.7" cy="851.9" rx="6.6" ry="7.1" fill="#FF6666"/>
<ellipse cx="1576.7" cy="862.1" rx="6.6" ry="7.1" fill="#FF6666"/>
<ellipse cx="1448.0" cy="869.0" rx="6.6" ry="7.1" fill="#FF6666"/>
<ellipse cx="1471.5" cy="875.3" rx="6.6" ry="7.1" fill="#FF6666"/>
<ellipse cx="1442.8" cy="883.8" rx="6.6" ry="7.1" fill="#FF6666"/>
<ellipse cx="1450.3" cy="882.6" rx="6.6" ry="7.1" fill="#FF6666"/>
<ellipse cx="1489.0" cy="886.0" rx="6.6" ry="7.1" fill="#FF6666"/>
<ellipse cx="1489.0" cy="889.5" rx="6.6" ry="7.1" fill="#FF6666"/>
<ellipse cx="1487.4" cy="892.9" rx="6.6" ry="7.1" fill="#FF6666"/>
<ellipse cx="1511.8" cy="884.9" rx="6.6" ry="7.1" fill="#FF6666"/>
<ellipse cx="1558.5" cy="897.0" rx="6.6" ry="7.1" fill="#FF6666"/>
<ellipse cx="1478.8" cy="933.9" rx="6.6" ry="7.1" fill="#FF6666"/>
<path d="M1418.9,700.5 V966.0 H1633.5" fill="none" stroke="#262626" stroke-width="3.6" stroke-linecap="square"/>
<line x1="1418.9" y1="700.6" x2="1422.9" y2="700.6" stroke="#262626" stroke-width="3.5"/>
<text x="0" y="0" font-size="28.4" text-anchor="end" font-weight="normal" font-style="normal" fill="#262626" transform="translate(1409.2 711.1) scale(1 1.1)">1.5</text>
<line x1="1418.9" y1="766.9" x2="1422.9" y2="766.9" stroke="#262626" stroke-width="3.5"/>
<text x="0" y="0" font-size="28.4" text-anchor="end" font-weight="normal" font-style="normal" fill="#262626" transform="translate(1409.2 777.4) scale(1 1.1)">1</text>
<line x1="1418.9" y1="833.2" x2="1422.9" y2="833.2" stroke="#262626" stroke-width="3.5"/>
<text x="0" y="0" font-size="28.4" text-anchor="end" font-weight="normal" font-style="normal" fill="#262626" transform="translate(1409.2 843.7) scale(1 1.1)">0.5</text>
<line x1="1418.9" y1="899.7" x2="1422.9" y2="899.7" stroke="#262626" stroke-width="3.5"/>
<text x="0" y="0" font-size="28.4" text-anchor="end" font-weight="normal" font-style="normal" fill="#262626" transform="translate(1409.2 910.2) scale(1 1.1)">0</text>
<line x1="1418.9" y1="966.0" x2="1422.9" y2="966.0" stroke="#262626" stroke-width="3.5"/>
<text x="0" y="0" font-size="28.4" text-anchor="end" font-weight="normal" font-style="normal" fill="#262626" transform="translate(1409.2 976.5) scale(1 1.1)">-0.5</text>
<line x1="1418.9" y1="966.0" x2="1418.9" y2="962.0" stroke="#262626" stroke-width="3.5"/>
<text x="0" y="0" font-size="28.4" text-anchor="middle" font-weight="normal" font-style="normal" fill="#262626" transform="translate(1418.9 1004.5) scale(1 1.1)">-0.2</text>
<line x1="1503.6" y1="966.0" x2="1503.6" y2="962.0" stroke="#262626" stroke-width="3.5"/>
<text x="0" y="0" font-size="28.4" text-anchor="middle" font-weight="normal" font-style="normal" fill="#262626" transform="translate(1503.6 1004.5) scale(1 1.1)">0</text>
<line x1="1588.8" y1="966.0" x2="1588.8" y2="962.0" stroke="#262626" stroke-width="3.5"/>
<text x="0" y="0" font-size="28.4" text-anchor="middle" font-weight="normal" font-style="normal" fill="#262626" transform="translate(1588.8 1004.5) scale(1 1.1)">0.2</text>
<text x="0" y="0" font-size="30.8" text-anchor="middle" font-weight="normal" font-style="normal" fill="#262626" transform="translate(1526.2 1043.0) scale(1 1.16)">Frontoparietal</text>
<text x="0" y="0" font-size="32.5" text-anchor="middle" font-weight="normal" font-style="normal" fill="#262626" transform="translate(1348.5 833.2) rotate(-90) scale(1.035 1)">Positive learning</text>
<text x="0" y="0" font-size="31.2" text-anchor="middle" font-weight="normal" font-style="italic" fill="#000" transform="translate(1526.0 694.0) scale(1 1.105)">r = 0.46*</text>
<line x1="1769.4" y1="822.2" x2="1932.1" y2="850.3" stroke="#c4c4c4" stroke-width="1.3"/>
<ellipse cx="1793.3" cy="790.1" rx="6.6" ry="7.1" fill="#0075B5"/>
<ellipse cx="1816.8" cy="790.9" rx="6.6" ry="7.1" fill="#0075B5"/>
<ellipse cx="1841.7" cy="805.0" rx="6.6" ry="7.1" fill="#0075B5"/>
<ellipse cx="1872.4" cy="823.4" rx="6.6" ry="7.1" fill="#0075B5"/>
<ellipse cx="1842.4" cy="835.2" rx="6.6" ry="7.1" fill="#0075B5"/>
<ellipse cx="1859.1" cy="841.6" rx="6.6" ry="7.1" fill="#0075B5"/>
<ellipse cx="1883.4" cy="847.2" rx="6.6" ry="7.1" fill="#0075B5"/>
<ellipse cx="1877.0" cy="851.1" rx="6.6" ry="7.1" fill="#0075B5"/>
<ellipse cx="1889.8" cy="852.9" rx="6.6" ry="7.1" fill="#0075B5"/>
<ellipse cx="1856.0" cy="854.4" rx="6.6" ry="7.1" fill="#0075B5"/>
<ellipse cx="1814.3" cy="851.1" rx="6.6" ry="7.1" fill="#0075B5"/>
<ellipse cx="1775.9" cy="865.7" rx="6.6" ry="7.1" fill="#0075B5"/>
<ellipse cx="1932.1" cy="866.5" rx="6.6" ry="7.1" fill="#0075B5"/>
<ellipse cx="1831.7" cy="881.3" rx="6.6" ry="7.1" fill="#0075B5"/>
<ellipse cx="1923.1" cy="883.1" rx="6.6" ry="7.1" fill="#0075B5"/>
<ellipse cx="1819.4" cy="925.4" rx="6.6" ry="7.1" fill="#0075B5"/>
<ellipse cx="1777.1" cy="720.5" rx="6.6" ry="7.1" fill="#FF6666"/>
<ellipse cx="1838.1" cy="758.9" rx="6.6" ry="7.1" fill="#FF6666"/>
<ellipse cx="1798.1" cy="770.4" rx="6.6" ry="7.1" fill="#FF6666"/>
<ellipse cx="1887.8" cy="780.2" rx="6.6" ry="7.1" fill="#FF6666"/>
<ellipse cx="1828.9" cy="807.6" rx="6.6" ry="7.1" fill="#FF6666"/>
<ellipse cx="1884.7" cy="807.6" rx="6.6" ry="7.1" fill="#FF6666"/>
<ellipse cx="1800.2" cy="814.7" rx="6.6" ry="7.1" fill="#FF6666"/>
<ellipse cx="1815.0" cy="822.4" rx="6.6" ry="7.1" fill="#FF6666"/>
<ellipse cx="1768.9" cy="836.2" rx="6.6" ry="7.1" fill="#FF6666"/>
<ellipse cx="1775.1" cy="837.0" rx="6.6" ry="7.1" fill="#FF6666"/>
<ellipse cx="1903.1" cy="837.8" rx="6.6" ry="7.1" fill="#FF6666"/>
<ellipse cx="1796.9" cy="848.5" rx="6.6" ry="7.1" fill="#FF6666"/>
<ellipse cx="1814.3" cy="854.9" rx="6.6" ry="7.1" fill="#FF6666"/>
<ellipse cx="1816.8" cy="856.7" rx="6.6" ry="7.1" fill="#FF6666"/>
<ellipse cx="1815.0" cy="860.0" rx="6.6" ry="7.1" fill="#FF6666"/>
<ellipse cx="1805.3" cy="895.9" rx="6.6" ry="7.1" fill="#FF6666"/>
<path d="M1744.3,699.8 V966.0 H1959.7" fill="none" stroke="#262626" stroke-width="3.6" stroke-linecap="square"/>
<line x1="1744.3" y1="769.3" x2="1748.3" y2="769.3" stroke="#262626" stroke-width="3.5"/>
<text x="0" y="0" font-size="28.4" text-anchor="end" font-weight="normal" font-style="normal" fill="#262626" transform="translate(1734.6 779.8) scale(1 1.1)">1</text>
<line x1="1744.3" y1="867.5" x2="1748.3" y2="867.5" stroke="#262626" stroke-width="3.5"/>
<text x="0" y="0" font-size="28.4" text-anchor="end" font-weight="normal" font-style="normal" fill="#262626" transform="translate(1734.6 878.0) scale(1 1.1)">0</text>
<line x1="1744.3" y1="966.0" x2="1748.3" y2="966.0" stroke="#262626" stroke-width="3.5"/>
<text x="0" y="0" font-size="28.4" text-anchor="end" font-weight="normal" font-style="normal" fill="#262626" transform="translate(1734.6 976.5) scale(1 1.1)">-1</text>
<line x1="1744.3" y1="966.0" x2="1744.3" y2="962.0" stroke="#262626" stroke-width="3.5"/>
<text x="0" y="0" font-size="28.4" text-anchor="middle" font-weight="normal" font-style="normal" fill="#262626" transform="translate(1744.3 1004.5) scale(1 1.1)">-0.2</text>
<line x1="1829.6" y1="966.0" x2="1829.6" y2="962.0" stroke="#262626" stroke-width="3.5"/>
<text x="0" y="0" font-size="28.4" text-anchor="middle" font-weight="normal" font-style="normal" fill="#262626" transform="translate(1829.6 1004.5) scale(1 1.1)">0</text>
<line x1="1915.4" y1="966.0" x2="1915.4" y2="962.0" stroke="#262626" stroke-width="3.5"/>
<text x="0" y="0" font-size="28.4" text-anchor="middle" font-weight="normal" font-style="normal" fill="#262626" transform="translate(1915.4 1004.5) scale(1 1.1)">0.2</text>
<text x="0" y="0" font-size="30.8" text-anchor="middle" font-weight="normal" font-style="normal" fill="#262626" transform="translate(1852.0 1043.0) scale(1 1.16)">Frontoparietal</text>
<text x="0" y="0" font-size="32.5" text-anchor="middle" font-weight="normal" font-style="normal" fill="#262626" transform="translate(1696.0 832.9) rotate(-90) scale(1.035 1)">Negative learning</text>
<text x="0" y="0" font-size="31.2" text-anchor="middle" font-weight="normal" font-style="italic" fill="#000" transform="translate(1870.0 694.0) scale(1 1.105)">r = -0.15 (n.s.)</text>
</svg>
</body></html>
